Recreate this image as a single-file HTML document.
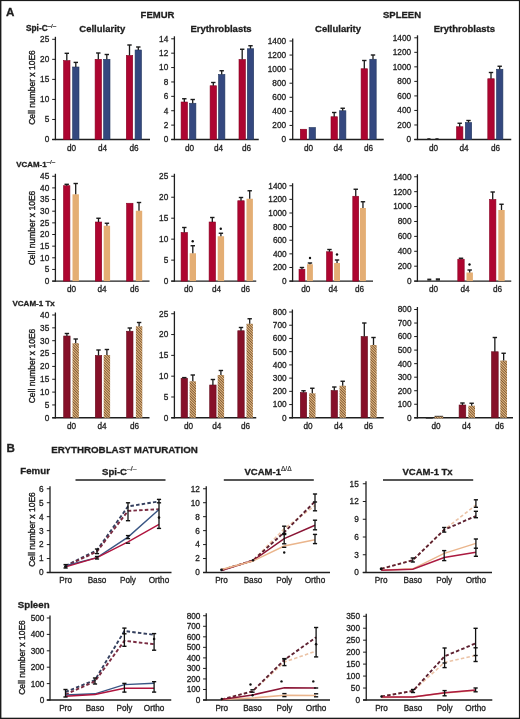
<!DOCTYPE html>
<html><head><meta charset="utf-8"><style>
html,body{margin:0;padding:0;background:#fff;width:520px;height:719px;overflow:hidden;position:relative;font-family:"Liberation Sans",sans-serif}
</style></head><body>
<svg width="520" height="719" viewBox="0 0 520 719" style="position:absolute;left:0;top:0;will-change:transform">
<defs><pattern id="hatch" patternUnits="userSpaceOnUse" width="1.85" height="4" patternTransform="rotate(-45)">
<rect width="1.85" height="4" fill="#e9bd85"/><rect width="0.72" height="4" fill="#5e3c1e"/></pattern></defs>
<rect x="0" y="0" width="520" height="719" fill="#fff"/>
<g font-family="Liberation Sans, sans-serif">
<text x="6.1" y="16.2" font-size="11.6" text-anchor="start" font-weight="bold" fill="#1e1e1e" stroke="#1e1e1e" stroke-width="0.3" >A</text>
<text x="157.5" y="17.5" font-size="9.5" text-anchor="middle" font-weight="bold" fill="#1e1e1e" stroke="#1e1e1e" stroke-width="0.3" >FEMUR</text>
<text x="402" y="17.5" font-size="9.5" text-anchor="middle" font-weight="bold" fill="#1e1e1e" stroke="#1e1e1e" stroke-width="0.3" >SPLEEN</text>
<text x="26" y="31" font-size="8.3" text-anchor="start" font-weight="bold" fill="#1e1e1e" stroke="#1e1e1e" stroke-width="0.3" >Spi-C<tspan dy="-3.1" font-size="6.2" font-weight="normal" stroke-width="0.2">&#8211;/&#8211;</tspan></text>
<text x="102.3" y="32" font-size="9.5" text-anchor="middle" font-weight="bold" fill="#1e1e1e" stroke="#1e1e1e" stroke-width="0.3" >Cellularity</text>
<text x="221" y="31.5" font-size="9.5" text-anchor="middle" font-weight="bold" fill="#1e1e1e" stroke="#1e1e1e" stroke-width="0.3" >Erythroblasts</text>
<text x="338" y="31.5" font-size="9.5" text-anchor="middle" font-weight="bold" fill="#1e1e1e" stroke="#1e1e1e" stroke-width="0.3" >Cellularity</text>
<text x="464.4" y="31.5" font-size="9.5" text-anchor="middle" font-weight="bold" fill="#1e1e1e" stroke="#1e1e1e" stroke-width="0.3" >Erythroblasts</text>
<text x="35" y="87.5" font-size="8.5" text-anchor="middle" fill="#1e1e1e" stroke="#1e1e1e" stroke-width="0.38" transform="rotate(-90 35 87.5)">Cell number x 10E6</text>
<line x1="55.4" y1="36.8" x2="55.4" y2="140.1" stroke="#1e1e1e" stroke-width="1.3" />
<line x1="52.199999999999996" y1="139.5" x2="150" y2="139.5" stroke="#1e1e1e" stroke-width="1.45" />
<line x1="52.199999999999996" y1="39.3" x2="55.4" y2="39.3" stroke="#1e1e1e" stroke-width="1" />
<text x="49.3" y="42.2" font-size="8.25" text-anchor="end" font-weight="normal" fill="#1e1e1e" stroke="#1e1e1e" stroke-width="0.3" >25</text>
<line x1="52.199999999999996" y1="59.34" x2="55.4" y2="59.34" stroke="#1e1e1e" stroke-width="1" />
<text x="49.3" y="62.24" font-size="8.25" text-anchor="end" font-weight="normal" fill="#1e1e1e" stroke="#1e1e1e" stroke-width="0.3" >20</text>
<line x1="52.199999999999996" y1="79.38" x2="55.4" y2="79.38" stroke="#1e1e1e" stroke-width="1" />
<text x="49.3" y="82.28" font-size="8.25" text-anchor="end" font-weight="normal" fill="#1e1e1e" stroke="#1e1e1e" stroke-width="0.3" >15</text>
<line x1="52.199999999999996" y1="99.42" x2="55.4" y2="99.42" stroke="#1e1e1e" stroke-width="1" />
<text x="49.3" y="102.32" font-size="8.25" text-anchor="end" font-weight="normal" fill="#1e1e1e" stroke="#1e1e1e" stroke-width="0.3" >10</text>
<line x1="52.199999999999996" y1="119.46000000000001" x2="55.4" y2="119.46000000000001" stroke="#1e1e1e" stroke-width="1" />
<text x="49.3" y="122.36" font-size="8.25" text-anchor="end" font-weight="normal" fill="#1e1e1e" stroke="#1e1e1e" stroke-width="0.3" >5</text>
<line x1="52.199999999999996" y1="139.5" x2="55.4" y2="139.5" stroke="#1e1e1e" stroke-width="1" />
<text x="49.3" y="142.4" font-size="8.25" text-anchor="end" font-weight="normal" fill="#1e1e1e" stroke="#1e1e1e" stroke-width="0.3" >0</text>
<rect x="63.599999999999994" y="60.6" width="6.4" height="78.9" fill="#ad0531" stroke="#860020" stroke-width="0.6"/>
<line x1="66.8" y1="60.6" x2="66.8" y2="53.3" stroke="#1a1a1a" stroke-width="1.3" />
<line x1="64.6" y1="53.3" x2="69.0" y2="53.3" stroke="#1a1a1a" stroke-width="1.4" />
<rect x="72.6" y="67" width="6.4" height="72.5" fill="#34487f" stroke="#22375e" stroke-width="0.6"/>
<line x1="75.8" y1="67" x2="75.8" y2="62.4" stroke="#1a1a1a" stroke-width="1.3" />
<line x1="73.6" y1="62.4" x2="78.0" y2="62.4" stroke="#1a1a1a" stroke-width="1.4" />
<rect x="95.1" y="59.3" width="6.4" height="80.2" fill="#ad0531" stroke="#860020" stroke-width="0.6"/>
<line x1="98.3" y1="59.3" x2="98.3" y2="53" stroke="#1a1a1a" stroke-width="1.3" />
<line x1="96.1" y1="53" x2="100.5" y2="53" stroke="#1a1a1a" stroke-width="1.4" />
<rect x="103.6" y="59.3" width="6.4" height="80.2" fill="#34487f" stroke="#22375e" stroke-width="0.6"/>
<line x1="106.8" y1="59.3" x2="106.8" y2="54.5" stroke="#1a1a1a" stroke-width="1.3" />
<line x1="104.6" y1="54.5" x2="109.0" y2="54.5" stroke="#1a1a1a" stroke-width="1.4" />
<rect x="126.3" y="55.5" width="6.4" height="84.0" fill="#ad0531" stroke="#860020" stroke-width="0.6"/>
<line x1="129.5" y1="55.5" x2="129.5" y2="45" stroke="#1a1a1a" stroke-width="1.3" />
<line x1="127.3" y1="45" x2="131.7" y2="45" stroke="#1a1a1a" stroke-width="1.4" />
<rect x="135.10000000000002" y="50" width="6.4" height="89.5" fill="#34487f" stroke="#22375e" stroke-width="0.6"/>
<line x1="138.3" y1="50" x2="138.3" y2="47" stroke="#1a1a1a" stroke-width="1.3" />
<line x1="136.10000000000002" y1="47" x2="140.5" y2="47" stroke="#1a1a1a" stroke-width="1.4" />
<text x="71.5" y="150.5" font-size="8.2" text-anchor="middle" font-weight="normal" fill="#1e1e1e" stroke="#1e1e1e" stroke-width="0.3" >d0</text>
<text x="102.5" y="150.5" font-size="8.2" text-anchor="middle" font-weight="normal" fill="#1e1e1e" stroke="#1e1e1e" stroke-width="0.3" >d4</text>
<text x="134" y="150.5" font-size="8.2" text-anchor="middle" font-weight="normal" fill="#1e1e1e" stroke="#1e1e1e" stroke-width="0.3" >d6</text>
<line x1="174.4" y1="36.3" x2="174.4" y2="140.1" stroke="#1e1e1e" stroke-width="1.3" />
<line x1="171.20000000000002" y1="139.5" x2="258.75" y2="139.5" stroke="#1e1e1e" stroke-width="1.45" />
<line x1="171.20000000000002" y1="38.8" x2="174.4" y2="38.8" stroke="#1e1e1e" stroke-width="1" />
<text x="168.3" y="41.7" font-size="8.25" text-anchor="end" font-weight="normal" fill="#1e1e1e" stroke="#1e1e1e" stroke-width="0.3" >14</text>
<line x1="171.20000000000002" y1="53.18571428571428" x2="174.4" y2="53.18571428571428" stroke="#1e1e1e" stroke-width="1" />
<text x="168.3" y="56.09" font-size="8.25" text-anchor="end" font-weight="normal" fill="#1e1e1e" stroke="#1e1e1e" stroke-width="0.3" >12</text>
<line x1="171.20000000000002" y1="67.57142857142857" x2="174.4" y2="67.57142857142857" stroke="#1e1e1e" stroke-width="1" />
<text x="168.3" y="70.47" font-size="8.25" text-anchor="end" font-weight="normal" fill="#1e1e1e" stroke="#1e1e1e" stroke-width="0.3" >10</text>
<line x1="171.20000000000002" y1="81.95714285714286" x2="174.4" y2="81.95714285714286" stroke="#1e1e1e" stroke-width="1" />
<text x="168.3" y="84.86" font-size="8.25" text-anchor="end" font-weight="normal" fill="#1e1e1e" stroke="#1e1e1e" stroke-width="0.3" >8</text>
<line x1="171.20000000000002" y1="96.34285714285714" x2="174.4" y2="96.34285714285714" stroke="#1e1e1e" stroke-width="1" />
<text x="168.3" y="99.24" font-size="8.25" text-anchor="end" font-weight="normal" fill="#1e1e1e" stroke="#1e1e1e" stroke-width="0.3" >6</text>
<line x1="171.20000000000002" y1="110.72857142857143" x2="174.4" y2="110.72857142857143" stroke="#1e1e1e" stroke-width="1" />
<text x="168.3" y="113.63" font-size="8.25" text-anchor="end" font-weight="normal" fill="#1e1e1e" stroke="#1e1e1e" stroke-width="0.3" >4</text>
<line x1="171.20000000000002" y1="125.11428571428571" x2="174.4" y2="125.11428571428571" stroke="#1e1e1e" stroke-width="1" />
<text x="168.3" y="128.01" font-size="8.25" text-anchor="end" font-weight="normal" fill="#1e1e1e" stroke="#1e1e1e" stroke-width="0.3" >2</text>
<line x1="171.20000000000002" y1="139.5" x2="174.4" y2="139.5" stroke="#1e1e1e" stroke-width="1" />
<text x="168.3" y="142.4" font-size="8.25" text-anchor="end" font-weight="normal" fill="#1e1e1e" stroke="#1e1e1e" stroke-width="0.3" >0</text>
<rect x="181.10000000000002" y="102" width="6.4" height="37.5" fill="#ad0531" stroke="#860020" stroke-width="0.6"/>
<line x1="184.3" y1="102" x2="184.3" y2="98.75" stroke="#1a1a1a" stroke-width="1.3" />
<line x1="182.10000000000002" y1="98.75" x2="186.5" y2="98.75" stroke="#1a1a1a" stroke-width="1.4" />
<rect x="189.5" y="103.25" width="6.4" height="36.25" fill="#34487f" stroke="#22375e" stroke-width="0.6"/>
<line x1="192.7" y1="103.25" x2="192.7" y2="99.5" stroke="#1a1a1a" stroke-width="1.3" />
<line x1="190.5" y1="99.5" x2="194.89999999999998" y2="99.5" stroke="#1a1a1a" stroke-width="1.4" />
<rect x="210.10000000000002" y="85.75" width="6.4" height="53.75" fill="#ad0531" stroke="#860020" stroke-width="0.6"/>
<line x1="213.3" y1="85.75" x2="213.3" y2="82.5" stroke="#1a1a1a" stroke-width="1.3" />
<line x1="211.10000000000002" y1="82.5" x2="215.5" y2="82.5" stroke="#1a1a1a" stroke-width="1.4" />
<rect x="218.5" y="74.5" width="6.4" height="65.0" fill="#34487f" stroke="#22375e" stroke-width="0.6"/>
<line x1="221.7" y1="74.5" x2="221.7" y2="70.75" stroke="#1a1a1a" stroke-width="1.3" />
<line x1="219.5" y1="70.75" x2="223.89999999999998" y2="70.75" stroke="#1a1a1a" stroke-width="1.4" />
<rect x="239.0" y="59.5" width="6.4" height="80.0" fill="#ad0531" stroke="#860020" stroke-width="0.6"/>
<line x1="242.2" y1="59.5" x2="242.2" y2="49.25" stroke="#1a1a1a" stroke-width="1.3" />
<line x1="240.0" y1="49.25" x2="244.39999999999998" y2="49.25" stroke="#1a1a1a" stroke-width="1.4" />
<rect x="247.3" y="48.75" width="6.4" height="90.75" fill="#34487f" stroke="#22375e" stroke-width="0.6"/>
<line x1="250.5" y1="48.75" x2="250.5" y2="45.75" stroke="#1a1a1a" stroke-width="1.3" />
<line x1="248.3" y1="45.75" x2="252.7" y2="45.75" stroke="#1a1a1a" stroke-width="1.4" />
<text x="189.5" y="150.5" font-size="8.2" text-anchor="middle" font-weight="normal" fill="#1e1e1e" stroke="#1e1e1e" stroke-width="0.3" >d0</text>
<text x="218.5" y="150.5" font-size="8.2" text-anchor="middle" font-weight="normal" fill="#1e1e1e" stroke="#1e1e1e" stroke-width="0.3" >d4</text>
<text x="246.5" y="150.5" font-size="8.2" text-anchor="middle" font-weight="normal" fill="#1e1e1e" stroke="#1e1e1e" stroke-width="0.3" >d6</text>
<line x1="292.7" y1="38.5" x2="292.7" y2="140.1" stroke="#1e1e1e" stroke-width="1.3" />
<line x1="289.5" y1="139.5" x2="383.75" y2="139.5" stroke="#1e1e1e" stroke-width="1.45" />
<line x1="289.5" y1="41.0" x2="292.7" y2="41.0" stroke="#1e1e1e" stroke-width="1" />
<text x="286.09999999999997" y="43.9" font-size="8.25" text-anchor="end" font-weight="normal" fill="#1e1e1e" stroke="#1e1e1e" stroke-width="0.3" >1400</text>
<line x1="289.5" y1="55.07142857142857" x2="292.7" y2="55.07142857142857" stroke="#1e1e1e" stroke-width="1" />
<text x="286.09999999999997" y="57.97" font-size="8.25" text-anchor="end" font-weight="normal" fill="#1e1e1e" stroke="#1e1e1e" stroke-width="0.3" >1200</text>
<line x1="289.5" y1="69.14285714285714" x2="292.7" y2="69.14285714285714" stroke="#1e1e1e" stroke-width="1" />
<text x="286.09999999999997" y="72.04" font-size="8.25" text-anchor="end" font-weight="normal" fill="#1e1e1e" stroke="#1e1e1e" stroke-width="0.3" >1000</text>
<line x1="289.5" y1="83.21428571428572" x2="292.7" y2="83.21428571428572" stroke="#1e1e1e" stroke-width="1" />
<text x="286.09999999999997" y="86.11" font-size="8.25" text-anchor="end" font-weight="normal" fill="#1e1e1e" stroke="#1e1e1e" stroke-width="0.3" >800</text>
<line x1="289.5" y1="97.28571428571428" x2="292.7" y2="97.28571428571428" stroke="#1e1e1e" stroke-width="1" />
<text x="286.09999999999997" y="100.19" font-size="8.25" text-anchor="end" font-weight="normal" fill="#1e1e1e" stroke="#1e1e1e" stroke-width="0.3" >600</text>
<line x1="289.5" y1="111.35714285714286" x2="292.7" y2="111.35714285714286" stroke="#1e1e1e" stroke-width="1" />
<text x="286.09999999999997" y="114.26" font-size="8.25" text-anchor="end" font-weight="normal" fill="#1e1e1e" stroke="#1e1e1e" stroke-width="0.3" >400</text>
<line x1="289.5" y1="125.42857142857143" x2="292.7" y2="125.42857142857143" stroke="#1e1e1e" stroke-width="1" />
<text x="286.09999999999997" y="128.33" font-size="8.25" text-anchor="end" font-weight="normal" fill="#1e1e1e" stroke="#1e1e1e" stroke-width="0.3" >200</text>
<line x1="289.5" y1="139.5" x2="292.7" y2="139.5" stroke="#1e1e1e" stroke-width="1" />
<text x="286.09999999999997" y="142.4" font-size="8.25" text-anchor="end" font-weight="normal" fill="#1e1e1e" stroke="#1e1e1e" stroke-width="0.3" >0</text>
<rect x="300.3" y="129.25" width="6.4" height="10.25" fill="#ad0531" stroke="#860020" stroke-width="0.6"/>
<rect x="309.1" y="127.5" width="6.4" height="12.0" fill="#34487f" stroke="#22375e" stroke-width="0.6"/>
<rect x="331.0" y="116.75" width="6.4" height="22.75" fill="#ad0531" stroke="#860020" stroke-width="0.6"/>
<line x1="334.2" y1="116.75" x2="334.2" y2="112.5" stroke="#1a1a1a" stroke-width="1.3" />
<line x1="332.0" y1="112.5" x2="336.4" y2="112.5" stroke="#1a1a1a" stroke-width="1.4" />
<rect x="339.5" y="110.75" width="6.4" height="28.75" fill="#34487f" stroke="#22375e" stroke-width="0.6"/>
<line x1="342.7" y1="110.75" x2="342.7" y2="108.25" stroke="#1a1a1a" stroke-width="1.3" />
<line x1="340.5" y1="108.25" x2="344.9" y2="108.25" stroke="#1a1a1a" stroke-width="1.4" />
<rect x="361.1" y="68.75" width="6.4" height="70.75" fill="#ad0531" stroke="#860020" stroke-width="0.6"/>
<line x1="364.3" y1="68.75" x2="364.3" y2="60.5" stroke="#1a1a1a" stroke-width="1.3" />
<line x1="362.1" y1="60.5" x2="366.5" y2="60.5" stroke="#1a1a1a" stroke-width="1.4" />
<rect x="369.8" y="59.25" width="6.4" height="80.25" fill="#34487f" stroke="#22375e" stroke-width="0.6"/>
<line x1="373.0" y1="59.25" x2="373.0" y2="55" stroke="#1a1a1a" stroke-width="1.3" />
<line x1="370.8" y1="55" x2="375.2" y2="55" stroke="#1a1a1a" stroke-width="1.4" />
<text x="308.5" y="150.5" font-size="8.2" text-anchor="middle" font-weight="normal" fill="#1e1e1e" stroke="#1e1e1e" stroke-width="0.3" >d0</text>
<text x="338" y="150.5" font-size="8.2" text-anchor="middle" font-weight="normal" fill="#1e1e1e" stroke="#1e1e1e" stroke-width="0.3" >d4</text>
<text x="368.5" y="150.5" font-size="8.2" text-anchor="middle" font-weight="normal" fill="#1e1e1e" stroke="#1e1e1e" stroke-width="0.3" >d6</text>
<line x1="417.5" y1="35.3" x2="417.5" y2="140.1" stroke="#1e1e1e" stroke-width="1.3" />
<line x1="414.3" y1="139.5" x2="511.25" y2="139.5" stroke="#1e1e1e" stroke-width="1.45" />
<line x1="414.3" y1="37.8" x2="417.5" y2="37.8" stroke="#1e1e1e" stroke-width="1" />
<text x="411.1" y="40.7" font-size="8.25" text-anchor="end" font-weight="normal" fill="#1e1e1e" stroke="#1e1e1e" stroke-width="0.3" >1400</text>
<line x1="414.3" y1="52.32857142857142" x2="417.5" y2="52.32857142857142" stroke="#1e1e1e" stroke-width="1" />
<text x="411.1" y="55.23" font-size="8.25" text-anchor="end" font-weight="normal" fill="#1e1e1e" stroke="#1e1e1e" stroke-width="0.3" >1200</text>
<line x1="414.3" y1="66.85714285714286" x2="417.5" y2="66.85714285714286" stroke="#1e1e1e" stroke-width="1" />
<text x="411.1" y="69.76" font-size="8.25" text-anchor="end" font-weight="normal" fill="#1e1e1e" stroke="#1e1e1e" stroke-width="0.3" >1000</text>
<line x1="414.3" y1="81.38571428571429" x2="417.5" y2="81.38571428571429" stroke="#1e1e1e" stroke-width="1" />
<text x="411.1" y="84.29" font-size="8.25" text-anchor="end" font-weight="normal" fill="#1e1e1e" stroke="#1e1e1e" stroke-width="0.3" >800</text>
<line x1="414.3" y1="95.91428571428571" x2="417.5" y2="95.91428571428571" stroke="#1e1e1e" stroke-width="1" />
<text x="411.1" y="98.81" font-size="8.25" text-anchor="end" font-weight="normal" fill="#1e1e1e" stroke="#1e1e1e" stroke-width="0.3" >600</text>
<line x1="414.3" y1="110.44285714285715" x2="417.5" y2="110.44285714285715" stroke="#1e1e1e" stroke-width="1" />
<text x="411.1" y="113.34" font-size="8.25" text-anchor="end" font-weight="normal" fill="#1e1e1e" stroke="#1e1e1e" stroke-width="0.3" >400</text>
<line x1="414.3" y1="124.97142857142858" x2="417.5" y2="124.97142857142858" stroke="#1e1e1e" stroke-width="1" />
<text x="411.1" y="127.87" font-size="8.25" text-anchor="end" font-weight="normal" fill="#1e1e1e" stroke="#1e1e1e" stroke-width="0.3" >200</text>
<line x1="414.3" y1="139.5" x2="417.5" y2="139.5" stroke="#1e1e1e" stroke-width="1" />
<text x="411.1" y="142.4" font-size="8.25" text-anchor="end" font-weight="normal" fill="#1e1e1e" stroke="#1e1e1e" stroke-width="0.3" >0</text>
<rect x="427.3" y="138.2" width="3.2" height="1.4" fill="#222"/><rect x="435.4" y="138.2" width="3.2" height="1.4" fill="#222"/>
<rect x="456.5" y="126.75" width="6.4" height="12.75" fill="#ad0531" stroke="#860020" stroke-width="0.6"/>
<line x1="459.7" y1="126.75" x2="459.7" y2="123.25" stroke="#1a1a1a" stroke-width="1.3" />
<line x1="457.5" y1="123.25" x2="461.9" y2="123.25" stroke="#1a1a1a" stroke-width="1.4" />
<rect x="465.3" y="122.5" width="6.4" height="17.0" fill="#34487f" stroke="#22375e" stroke-width="0.6"/>
<line x1="468.5" y1="122.5" x2="468.5" y2="120.5" stroke="#1a1a1a" stroke-width="1.3" />
<line x1="466.3" y1="120.5" x2="470.7" y2="120.5" stroke="#1a1a1a" stroke-width="1.4" />
<rect x="487.8" y="78.75" width="6.4" height="60.75" fill="#ad0531" stroke="#860020" stroke-width="0.6"/>
<line x1="491.0" y1="78.75" x2="491.0" y2="72.5" stroke="#1a1a1a" stroke-width="1.3" />
<line x1="488.8" y1="72.5" x2="493.2" y2="72.5" stroke="#1a1a1a" stroke-width="1.4" />
<rect x="496.5" y="69.25" width="6.4" height="70.25" fill="#34487f" stroke="#22375e" stroke-width="0.6"/>
<line x1="499.7" y1="69.25" x2="499.7" y2="66.25" stroke="#1a1a1a" stroke-width="1.3" />
<line x1="497.5" y1="66.25" x2="501.9" y2="66.25" stroke="#1a1a1a" stroke-width="1.4" />
<text x="433.5" y="150.5" font-size="8.2" text-anchor="middle" font-weight="normal" fill="#1e1e1e" stroke="#1e1e1e" stroke-width="0.3" >d0</text>
<text x="464" y="150.5" font-size="8.2" text-anchor="middle" font-weight="normal" fill="#1e1e1e" stroke="#1e1e1e" stroke-width="0.3" >d4</text>
<text x="495.5" y="150.5" font-size="8.2" text-anchor="middle" font-weight="normal" fill="#1e1e1e" stroke="#1e1e1e" stroke-width="0.3" >d6</text>
<text x="16.3" y="167" font-size="7.9" text-anchor="start" font-weight="bold" fill="#1e1e1e" stroke="#1e1e1e" stroke-width="0.3" >VCAM-1<tspan dy="-3.1" font-size="6.2" font-weight="normal" stroke-width="0.2">&#8211;/&#8211;</tspan></text>
<text x="35" y="228" font-size="8.5" text-anchor="middle" fill="#1e1e1e" stroke="#1e1e1e" stroke-width="0.38" transform="rotate(-90 35 228)">Cell number x 10E6</text>
<line x1="55.4" y1="173.75" x2="55.4" y2="281.70000000000005" stroke="#1e1e1e" stroke-width="1.3" />
<line x1="52.199999999999996" y1="281.1" x2="149.5" y2="281.1" stroke="#1e1e1e" stroke-width="1.45" />
<line x1="52.199999999999996" y1="176.25" x2="55.4" y2="176.25" stroke="#1e1e1e" stroke-width="1" />
<text x="49.3" y="179.15" font-size="8.25" text-anchor="end" font-weight="normal" fill="#1e1e1e" stroke="#1e1e1e" stroke-width="0.3" >45</text>
<line x1="52.199999999999996" y1="187.9" x2="55.4" y2="187.9" stroke="#1e1e1e" stroke-width="1" />
<text x="49.3" y="190.8" font-size="8.25" text-anchor="end" font-weight="normal" fill="#1e1e1e" stroke="#1e1e1e" stroke-width="0.3" >40</text>
<line x1="52.199999999999996" y1="199.55" x2="55.4" y2="199.55" stroke="#1e1e1e" stroke-width="1" />
<text x="49.3" y="202.45" font-size="8.25" text-anchor="end" font-weight="normal" fill="#1e1e1e" stroke="#1e1e1e" stroke-width="0.3" >35</text>
<line x1="52.199999999999996" y1="211.2" x2="55.4" y2="211.2" stroke="#1e1e1e" stroke-width="1" />
<text x="49.3" y="214.1" font-size="8.25" text-anchor="end" font-weight="normal" fill="#1e1e1e" stroke="#1e1e1e" stroke-width="0.3" >30</text>
<line x1="52.199999999999996" y1="222.85000000000002" x2="55.4" y2="222.85000000000002" stroke="#1e1e1e" stroke-width="1" />
<text x="49.3" y="225.75" font-size="8.25" text-anchor="end" font-weight="normal" fill="#1e1e1e" stroke="#1e1e1e" stroke-width="0.3" >25</text>
<line x1="52.199999999999996" y1="234.5" x2="55.4" y2="234.5" stroke="#1e1e1e" stroke-width="1" />
<text x="49.3" y="237.4" font-size="8.25" text-anchor="end" font-weight="normal" fill="#1e1e1e" stroke="#1e1e1e" stroke-width="0.3" >20</text>
<line x1="52.199999999999996" y1="246.15" x2="55.4" y2="246.15" stroke="#1e1e1e" stroke-width="1" />
<text x="49.3" y="249.05" font-size="8.25" text-anchor="end" font-weight="normal" fill="#1e1e1e" stroke="#1e1e1e" stroke-width="0.3" >15</text>
<line x1="52.199999999999996" y1="257.8" x2="55.4" y2="257.8" stroke="#1e1e1e" stroke-width="1" />
<text x="49.3" y="260.7" font-size="8.25" text-anchor="end" font-weight="normal" fill="#1e1e1e" stroke="#1e1e1e" stroke-width="0.3" >10</text>
<line x1="52.199999999999996" y1="269.45000000000005" x2="55.4" y2="269.45000000000005" stroke="#1e1e1e" stroke-width="1" />
<text x="49.3" y="272.35" font-size="8.25" text-anchor="end" font-weight="normal" fill="#1e1e1e" stroke="#1e1e1e" stroke-width="0.3" >5</text>
<line x1="52.199999999999996" y1="281.1" x2="55.4" y2="281.1" stroke="#1e1e1e" stroke-width="1" />
<text x="49.3" y="284.0" font-size="8.25" text-anchor="end" font-weight="normal" fill="#1e1e1e" stroke="#1e1e1e" stroke-width="0.3" >0</text>
<rect x="63.5" y="185.7" width="6.4" height="95.40000000000003" fill="#ae0530" stroke="#880022" stroke-width="0.6"/>
<line x1="66.7" y1="185.7" x2="66.7" y2="184.3" stroke="#1a1a1a" stroke-width="1.3" />
<line x1="64.5" y1="184.3" x2="68.9" y2="184.3" stroke="#1a1a1a" stroke-width="1.4" />
<rect x="72.5" y="194.3" width="6.4" height="86.80000000000001" fill="#e4ae74"/>
<line x1="75.7" y1="194.3" x2="75.7" y2="183.5" stroke="#1a1a1a" stroke-width="1.3" />
<line x1="73.5" y1="183.5" x2="77.9" y2="183.5" stroke="#1a1a1a" stroke-width="1.4" />
<rect x="95.3" y="222" width="6.4" height="59.10000000000002" fill="#ae0530" stroke="#880022" stroke-width="0.6"/>
<line x1="98.5" y1="222" x2="98.5" y2="218.25" stroke="#1a1a1a" stroke-width="1.3" />
<line x1="96.3" y1="218.25" x2="100.7" y2="218.25" stroke="#1a1a1a" stroke-width="1.4" />
<rect x="103.7" y="225.75" width="6.4" height="55.35000000000002" fill="#e4ae74"/>
<line x1="106.9" y1="225.75" x2="106.9" y2="223.25" stroke="#1a1a1a" stroke-width="1.3" />
<line x1="104.7" y1="223.25" x2="109.10000000000001" y2="223.25" stroke="#1a1a1a" stroke-width="1.4" />
<rect x="126.6" y="203.25" width="6.400000000000015" height="77.85000000000002" fill="#ae0530" stroke="#880022" stroke-width="0.6"/>
<rect x="135.8" y="210.75" width="6.4" height="70.35000000000002" fill="#e4ae74"/>
<line x1="139.0" y1="210.75" x2="139.0" y2="202.5" stroke="#1a1a1a" stroke-width="1.3" />
<line x1="136.8" y1="202.5" x2="141.2" y2="202.5" stroke="#1a1a1a" stroke-width="1.4" />
<text x="71.5" y="292.1" font-size="8.2" text-anchor="middle" font-weight="normal" fill="#1e1e1e" stroke="#1e1e1e" stroke-width="0.3" >d0</text>
<text x="102" y="292.1" font-size="8.2" text-anchor="middle" font-weight="normal" fill="#1e1e1e" stroke="#1e1e1e" stroke-width="0.3" >d4</text>
<text x="134.5" y="292.1" font-size="8.2" text-anchor="middle" font-weight="normal" fill="#1e1e1e" stroke="#1e1e1e" stroke-width="0.3" >d6</text>
<line x1="174.4" y1="173.75" x2="174.4" y2="281.70000000000005" stroke="#1e1e1e" stroke-width="1.3" />
<line x1="171.20000000000002" y1="281.1" x2="256.25" y2="281.1" stroke="#1e1e1e" stroke-width="1.45" />
<line x1="171.20000000000002" y1="176.25" x2="174.4" y2="176.25" stroke="#1e1e1e" stroke-width="1" />
<text x="168.3" y="179.15" font-size="8.25" text-anchor="end" font-weight="normal" fill="#1e1e1e" stroke="#1e1e1e" stroke-width="0.3" >25</text>
<line x1="171.20000000000002" y1="197.22" x2="174.4" y2="197.22" stroke="#1e1e1e" stroke-width="1" />
<text x="168.3" y="200.12" font-size="8.25" text-anchor="end" font-weight="normal" fill="#1e1e1e" stroke="#1e1e1e" stroke-width="0.3" >20</text>
<line x1="171.20000000000002" y1="218.19" x2="174.4" y2="218.19" stroke="#1e1e1e" stroke-width="1" />
<text x="168.3" y="221.09" font-size="8.25" text-anchor="end" font-weight="normal" fill="#1e1e1e" stroke="#1e1e1e" stroke-width="0.3" >15</text>
<line x1="171.20000000000002" y1="239.16000000000003" x2="174.4" y2="239.16000000000003" stroke="#1e1e1e" stroke-width="1" />
<text x="168.3" y="242.06" font-size="8.25" text-anchor="end" font-weight="normal" fill="#1e1e1e" stroke="#1e1e1e" stroke-width="0.3" >10</text>
<line x1="171.20000000000002" y1="260.13" x2="174.4" y2="260.13" stroke="#1e1e1e" stroke-width="1" />
<text x="168.3" y="263.03" font-size="8.25" text-anchor="end" font-weight="normal" fill="#1e1e1e" stroke="#1e1e1e" stroke-width="0.3" >5</text>
<line x1="171.20000000000002" y1="281.1" x2="174.4" y2="281.1" stroke="#1e1e1e" stroke-width="1" />
<text x="168.3" y="284.0" font-size="8.25" text-anchor="end" font-weight="normal" fill="#1e1e1e" stroke="#1e1e1e" stroke-width="0.3" >0</text>
<rect x="181.10000000000002" y="232.5" width="6.4" height="48.60000000000002" fill="#ae0530" stroke="#880022" stroke-width="0.6"/>
<line x1="184.3" y1="232.5" x2="184.3" y2="227.5" stroke="#1a1a1a" stroke-width="1.3" />
<line x1="182.10000000000002" y1="227.5" x2="186.5" y2="227.5" stroke="#1a1a1a" stroke-width="1.4" />
<rect x="189.60000000000002" y="253.25" width="6.4" height="27.850000000000023" fill="#e4ae74"/>
<line x1="192.8" y1="253.25" x2="192.8" y2="245.75" stroke="#1a1a1a" stroke-width="1.3" />
<line x1="190.60000000000002" y1="245.75" x2="195.0" y2="245.75" stroke="#1a1a1a" stroke-width="1.4" />
<rect x="209.10000000000002" y="222" width="6.4" height="59.10000000000002" fill="#ae0530" stroke="#880022" stroke-width="0.6"/>
<line x1="212.3" y1="222" x2="212.3" y2="217.5" stroke="#1a1a1a" stroke-width="1.3" />
<line x1="210.10000000000002" y1="217.5" x2="214.5" y2="217.5" stroke="#1a1a1a" stroke-width="1.4" />
<rect x="217.70000000000002" y="236.25" width="6.4" height="44.85000000000002" fill="#e4ae74"/>
<line x1="220.9" y1="236.25" x2="220.9" y2="233.25" stroke="#1a1a1a" stroke-width="1.3" />
<line x1="218.70000000000002" y1="233.25" x2="223.1" y2="233.25" stroke="#1a1a1a" stroke-width="1.4" />
<rect x="237.8" y="200.75" width="6.4" height="80.35000000000002" fill="#ae0530" stroke="#880022" stroke-width="0.6"/>
<line x1="241.0" y1="200.75" x2="241.0" y2="197.5" stroke="#1a1a1a" stroke-width="1.3" />
<line x1="238.8" y1="197.5" x2="243.2" y2="197.5" stroke="#1a1a1a" stroke-width="1.4" />
<rect x="246.5" y="198.75" width="6.4" height="82.35000000000002" fill="#e4ae74"/>
<line x1="249.7" y1="198.75" x2="249.7" y2="190.75" stroke="#1a1a1a" stroke-width="1.3" />
<line x1="247.5" y1="190.75" x2="251.89999999999998" y2="190.75" stroke="#1a1a1a" stroke-width="1.4" />
<circle cx="192.7" cy="241.3" r="1.2" fill="#111"/>
<circle cx="220.8" cy="228.8" r="1.2" fill="#111"/>
<text x="188.5" y="292.1" font-size="8.2" text-anchor="middle" font-weight="normal" fill="#1e1e1e" stroke="#1e1e1e" stroke-width="0.3" >d0</text>
<text x="216.5" y="292.1" font-size="8.2" text-anchor="middle" font-weight="normal" fill="#1e1e1e" stroke="#1e1e1e" stroke-width="0.3" >d4</text>
<text x="245.5" y="292.1" font-size="8.2" text-anchor="middle" font-weight="normal" fill="#1e1e1e" stroke="#1e1e1e" stroke-width="0.3" >d6</text>
<line x1="292.6" y1="183.25" x2="292.6" y2="281.70000000000005" stroke="#1e1e1e" stroke-width="1.3" />
<line x1="289.40000000000003" y1="281.1" x2="373" y2="281.1" stroke="#1e1e1e" stroke-width="1.45" />
<line x1="289.40000000000003" y1="185.75" x2="292.6" y2="185.75" stroke="#1e1e1e" stroke-width="1" />
<text x="286.70000000000005" y="188.65" font-size="8.25" text-anchor="end" font-weight="normal" fill="#1e1e1e" stroke="#1e1e1e" stroke-width="0.3" >1400</text>
<line x1="289.40000000000003" y1="199.37142857142857" x2="292.6" y2="199.37142857142857" stroke="#1e1e1e" stroke-width="1" />
<text x="286.70000000000005" y="202.27" font-size="8.25" text-anchor="end" font-weight="normal" fill="#1e1e1e" stroke="#1e1e1e" stroke-width="0.3" >1200</text>
<line x1="289.40000000000003" y1="212.99285714285713" x2="292.6" y2="212.99285714285713" stroke="#1e1e1e" stroke-width="1" />
<text x="286.70000000000005" y="215.89" font-size="8.25" text-anchor="end" font-weight="normal" fill="#1e1e1e" stroke="#1e1e1e" stroke-width="0.3" >1000</text>
<line x1="289.40000000000003" y1="226.61428571428573" x2="292.6" y2="226.61428571428573" stroke="#1e1e1e" stroke-width="1" />
<text x="286.70000000000005" y="229.51" font-size="8.25" text-anchor="end" font-weight="normal" fill="#1e1e1e" stroke="#1e1e1e" stroke-width="0.3" >800</text>
<line x1="289.40000000000003" y1="240.2357142857143" x2="292.6" y2="240.2357142857143" stroke="#1e1e1e" stroke-width="1" />
<text x="286.70000000000005" y="243.14" font-size="8.25" text-anchor="end" font-weight="normal" fill="#1e1e1e" stroke="#1e1e1e" stroke-width="0.3" >600</text>
<line x1="289.40000000000003" y1="253.8571428571429" x2="292.6" y2="253.8571428571429" stroke="#1e1e1e" stroke-width="1" />
<text x="286.70000000000005" y="256.76" font-size="8.25" text-anchor="end" font-weight="normal" fill="#1e1e1e" stroke="#1e1e1e" stroke-width="0.3" >400</text>
<line x1="289.40000000000003" y1="267.47857142857146" x2="292.6" y2="267.47857142857146" stroke="#1e1e1e" stroke-width="1" />
<text x="286.70000000000005" y="270.38" font-size="8.25" text-anchor="end" font-weight="normal" fill="#1e1e1e" stroke="#1e1e1e" stroke-width="0.3" >200</text>
<line x1="289.40000000000003" y1="281.1" x2="292.6" y2="281.1" stroke="#1e1e1e" stroke-width="1" />
<text x="286.70000000000005" y="284.0" font-size="8.25" text-anchor="end" font-weight="normal" fill="#1e1e1e" stroke="#1e1e1e" stroke-width="0.3" >0</text>
<rect x="299.0" y="269.25" width="5.9" height="11.850000000000023" fill="#ae0530" stroke="#880022" stroke-width="0.6"/>
<line x1="301.95" y1="269.25" x2="301.95" y2="267.5" stroke="#1a1a1a" stroke-width="1.3" />
<line x1="299.75" y1="267.5" x2="304.15" y2="267.5" stroke="#1a1a1a" stroke-width="1.4" />
<rect x="307.0" y="264.25" width="5.9" height="16.850000000000023" fill="#e4ae74"/>
<line x1="309.95" y1="264.25" x2="309.95" y2="263" stroke="#1a1a1a" stroke-width="1.3" />
<line x1="307.75" y1="263" x2="312.15" y2="263" stroke="#1a1a1a" stroke-width="1.4" />
<rect x="326.5" y="251.75" width="5.9" height="29.350000000000023" fill="#ae0530" stroke="#880022" stroke-width="0.6"/>
<line x1="329.45" y1="251.75" x2="329.45" y2="249.5" stroke="#1a1a1a" stroke-width="1.3" />
<line x1="327.25" y1="249.5" x2="331.65" y2="249.5" stroke="#1a1a1a" stroke-width="1.4" />
<rect x="334.1" y="263" width="5.9" height="18.100000000000023" fill="#e4ae74"/>
<line x1="337.05" y1="263" x2="337.05" y2="260" stroke="#1a1a1a" stroke-width="1.3" />
<line x1="334.85" y1="260" x2="339.25" y2="260" stroke="#1a1a1a" stroke-width="1.4" />
<rect x="352.8" y="196.25" width="5.9" height="84.85000000000002" fill="#ae0530" stroke="#880022" stroke-width="0.6"/>
<line x1="355.75" y1="196.25" x2="355.75" y2="189.25" stroke="#1a1a1a" stroke-width="1.3" />
<line x1="353.55" y1="189.25" x2="357.95" y2="189.25" stroke="#1a1a1a" stroke-width="1.4" />
<rect x="360.0" y="208" width="5.9" height="73.10000000000002" fill="#e4ae74"/>
<line x1="362.95" y1="208" x2="362.95" y2="201.75" stroke="#1a1a1a" stroke-width="1.3" />
<line x1="360.75" y1="201.75" x2="365.15" y2="201.75" stroke="#1a1a1a" stroke-width="1.4" />
<circle cx="310" cy="258" r="1.2" fill="#111"/>
<circle cx="337" cy="254.5" r="1.2" fill="#111"/>
<text x="305.8" y="292.1" font-size="8.2" text-anchor="middle" font-weight="normal" fill="#1e1e1e" stroke="#1e1e1e" stroke-width="0.3" >d0</text>
<text x="333" y="292.1" font-size="8.2" text-anchor="middle" font-weight="normal" fill="#1e1e1e" stroke="#1e1e1e" stroke-width="0.3" >d4</text>
<text x="359.5" y="292.1" font-size="8.2" text-anchor="middle" font-weight="normal" fill="#1e1e1e" stroke="#1e1e1e" stroke-width="0.3" >d6</text>
<line x1="417.4" y1="174.25" x2="417.4" y2="281.70000000000005" stroke="#1e1e1e" stroke-width="1.3" />
<line x1="414.2" y1="281.1" x2="511.25" y2="281.1" stroke="#1e1e1e" stroke-width="1.45" />
<line x1="414.2" y1="176.75" x2="417.4" y2="176.75" stroke="#1e1e1e" stroke-width="1" />
<text x="411.5" y="179.65" font-size="8.25" text-anchor="end" font-weight="normal" fill="#1e1e1e" stroke="#1e1e1e" stroke-width="0.3" >1400</text>
<line x1="414.2" y1="191.65714285714284" x2="417.4" y2="191.65714285714284" stroke="#1e1e1e" stroke-width="1" />
<text x="411.5" y="194.56" font-size="8.25" text-anchor="end" font-weight="normal" fill="#1e1e1e" stroke="#1e1e1e" stroke-width="0.3" >1200</text>
<line x1="414.2" y1="206.56428571428572" x2="417.4" y2="206.56428571428572" stroke="#1e1e1e" stroke-width="1" />
<text x="411.5" y="209.46" font-size="8.25" text-anchor="end" font-weight="normal" fill="#1e1e1e" stroke="#1e1e1e" stroke-width="0.3" >1000</text>
<line x1="414.2" y1="221.4714285714286" x2="417.4" y2="221.4714285714286" stroke="#1e1e1e" stroke-width="1" />
<text x="411.5" y="224.37" font-size="8.25" text-anchor="end" font-weight="normal" fill="#1e1e1e" stroke="#1e1e1e" stroke-width="0.3" >800</text>
<line x1="414.2" y1="236.37857142857143" x2="417.4" y2="236.37857142857143" stroke="#1e1e1e" stroke-width="1" />
<text x="411.5" y="239.28" font-size="8.25" text-anchor="end" font-weight="normal" fill="#1e1e1e" stroke="#1e1e1e" stroke-width="0.3" >600</text>
<line x1="414.2" y1="251.2857142857143" x2="417.4" y2="251.2857142857143" stroke="#1e1e1e" stroke-width="1" />
<text x="411.5" y="254.19" font-size="8.25" text-anchor="end" font-weight="normal" fill="#1e1e1e" stroke="#1e1e1e" stroke-width="0.3" >400</text>
<line x1="414.2" y1="266.1928571428572" x2="417.4" y2="266.1928571428572" stroke="#1e1e1e" stroke-width="1" />
<text x="411.5" y="269.09" font-size="8.25" text-anchor="end" font-weight="normal" fill="#1e1e1e" stroke="#1e1e1e" stroke-width="0.3" >200</text>
<line x1="414.2" y1="281.1" x2="417.4" y2="281.1" stroke="#1e1e1e" stroke-width="1" />
<text x="411.5" y="284.0" font-size="8.25" text-anchor="end" font-weight="normal" fill="#1e1e1e" stroke="#1e1e1e" stroke-width="0.3" >0</text>
<rect x="427.3" y="278.6" width="4" height="2" fill="#222"/><rect x="435.8" y="278.3" width="4.2" height="2.3" fill="#222"/>
<rect x="457.8" y="259.25" width="6.4" height="21.850000000000023" fill="#ae0530" stroke="#880022" stroke-width="0.6"/>
<line x1="461.0" y1="259.25" x2="461.0" y2="258.25" stroke="#1a1a1a" stroke-width="1.3" />
<line x1="458.8" y1="258.25" x2="463.2" y2="258.25" stroke="#1a1a1a" stroke-width="1.4" />
<rect x="466.5" y="272.5" width="6.4" height="8.600000000000023" fill="#e4ae74"/>
<line x1="469.7" y1="272.5" x2="469.7" y2="270" stroke="#1a1a1a" stroke-width="1.3" />
<line x1="467.5" y1="270" x2="471.9" y2="270" stroke="#1a1a1a" stroke-width="1.4" />
<rect x="489.5" y="199.5" width="6.4" height="81.60000000000002" fill="#ae0530" stroke="#880022" stroke-width="0.6"/>
<line x1="492.7" y1="199.5" x2="492.7" y2="192" stroke="#1a1a1a" stroke-width="1.3" />
<line x1="490.5" y1="192" x2="494.9" y2="192" stroke="#1a1a1a" stroke-width="1.4" />
<rect x="498.3" y="210" width="6.4" height="71.10000000000002" fill="#e4ae74"/>
<line x1="501.5" y1="210" x2="501.5" y2="204.25" stroke="#1a1a1a" stroke-width="1.3" />
<line x1="499.3" y1="204.25" x2="503.7" y2="204.25" stroke="#1a1a1a" stroke-width="1.4" />
<circle cx="469.5" cy="264.5" r="1.2" fill="#111"/>
<text x="433.5" y="292.1" font-size="8.2" text-anchor="middle" font-weight="normal" fill="#1e1e1e" stroke="#1e1e1e" stroke-width="0.3" >d0</text>
<text x="465" y="292.1" font-size="8.2" text-anchor="middle" font-weight="normal" fill="#1e1e1e" stroke="#1e1e1e" stroke-width="0.3" >d4</text>
<text x="497.5" y="292.1" font-size="8.2" text-anchor="middle" font-weight="normal" fill="#1e1e1e" stroke="#1e1e1e" stroke-width="0.3" >d6</text>
<text x="12.5" y="306" font-size="8" text-anchor="start" font-weight="bold" fill="#1e1e1e" stroke="#1e1e1e" stroke-width="0.3" >VCAM-1 Tx</text>
<text x="35" y="366" font-size="8.5" text-anchor="middle" fill="#1e1e1e" stroke="#1e1e1e" stroke-width="0.38" transform="rotate(-90 35 366)">Cell number x 10E6</text>
<line x1="55.4" y1="312.5" x2="55.4" y2="418.40000000000003" stroke="#1e1e1e" stroke-width="1.3" />
<line x1="52.199999999999996" y1="417.8" x2="149.5" y2="417.8" stroke="#1e1e1e" stroke-width="1.45" />
<line x1="52.199999999999996" y1="315.0" x2="55.4" y2="315.0" stroke="#1e1e1e" stroke-width="1" />
<text x="49.3" y="317.9" font-size="8.25" text-anchor="end" font-weight="normal" fill="#1e1e1e" stroke="#1e1e1e" stroke-width="0.3" >40</text>
<line x1="52.199999999999996" y1="327.85" x2="55.4" y2="327.85" stroke="#1e1e1e" stroke-width="1" />
<text x="49.3" y="330.75" font-size="8.25" text-anchor="end" font-weight="normal" fill="#1e1e1e" stroke="#1e1e1e" stroke-width="0.3" >35</text>
<line x1="52.199999999999996" y1="340.7" x2="55.4" y2="340.7" stroke="#1e1e1e" stroke-width="1" />
<text x="49.3" y="343.6" font-size="8.25" text-anchor="end" font-weight="normal" fill="#1e1e1e" stroke="#1e1e1e" stroke-width="0.3" >30</text>
<line x1="52.199999999999996" y1="353.55" x2="55.4" y2="353.55" stroke="#1e1e1e" stroke-width="1" />
<text x="49.3" y="356.45" font-size="8.25" text-anchor="end" font-weight="normal" fill="#1e1e1e" stroke="#1e1e1e" stroke-width="0.3" >25</text>
<line x1="52.199999999999996" y1="366.40000000000003" x2="55.4" y2="366.40000000000003" stroke="#1e1e1e" stroke-width="1" />
<text x="49.3" y="369.3" font-size="8.25" text-anchor="end" font-weight="normal" fill="#1e1e1e" stroke="#1e1e1e" stroke-width="0.3" >20</text>
<line x1="52.199999999999996" y1="379.25" x2="55.4" y2="379.25" stroke="#1e1e1e" stroke-width="1" />
<text x="49.3" y="382.15" font-size="8.25" text-anchor="end" font-weight="normal" fill="#1e1e1e" stroke="#1e1e1e" stroke-width="0.3" >15</text>
<line x1="52.199999999999996" y1="392.1" x2="55.4" y2="392.1" stroke="#1e1e1e" stroke-width="1" />
<text x="49.3" y="395.0" font-size="8.25" text-anchor="end" font-weight="normal" fill="#1e1e1e" stroke="#1e1e1e" stroke-width="0.3" >10</text>
<line x1="52.199999999999996" y1="404.95" x2="55.4" y2="404.95" stroke="#1e1e1e" stroke-width="1" />
<text x="49.3" y="407.85" font-size="8.25" text-anchor="end" font-weight="normal" fill="#1e1e1e" stroke="#1e1e1e" stroke-width="0.3" >5</text>
<line x1="52.199999999999996" y1="417.8" x2="55.4" y2="417.8" stroke="#1e1e1e" stroke-width="1" />
<text x="49.3" y="420.7" font-size="8.25" text-anchor="end" font-weight="normal" fill="#1e1e1e" stroke="#1e1e1e" stroke-width="0.3" >0</text>
<rect x="63.699999999999996" y="336" width="6.4000000000000075" height="81.80000000000001" fill="#861029" stroke="#650a1c" stroke-width="0.6"/>
<line x1="66.9" y1="336" x2="66.9" y2="333.5" stroke="#1a1a1a" stroke-width="1.3" />
<line x1="64.7" y1="333.5" x2="69.10000000000001" y2="333.5" stroke="#1a1a1a" stroke-width="1.4" />
<rect x="72.5" y="343.2" width="6.4" height="74.60000000000002" fill="url(#hatch)"/>
<line x1="75.7" y1="343.2" x2="75.7" y2="339" stroke="#1a1a1a" stroke-width="1.3" />
<line x1="73.5" y1="339" x2="77.9" y2="339" stroke="#1a1a1a" stroke-width="1.4" />
<rect x="95.3" y="355.5" width="6.4" height="62.30000000000001" fill="#861029" stroke="#650a1c" stroke-width="0.6"/>
<line x1="98.5" y1="355.5" x2="98.5" y2="350" stroke="#1a1a1a" stroke-width="1.3" />
<line x1="96.3" y1="350" x2="100.7" y2="350" stroke="#1a1a1a" stroke-width="1.4" />
<rect x="103.7" y="355" width="6.4" height="62.80000000000001" fill="url(#hatch)"/>
<line x1="106.9" y1="355" x2="106.9" y2="349.5" stroke="#1a1a1a" stroke-width="1.3" />
<line x1="104.7" y1="349.5" x2="109.10000000000001" y2="349.5" stroke="#1a1a1a" stroke-width="1.4" />
<rect x="126.6" y="331.25" width="6.400000000000015" height="86.55000000000001" fill="#861029" stroke="#650a1c" stroke-width="0.6"/>
<line x1="129.8" y1="331.25" x2="129.8" y2="328" stroke="#1a1a1a" stroke-width="1.3" />
<line x1="127.60000000000001" y1="328" x2="132.0" y2="328" stroke="#1a1a1a" stroke-width="1.4" />
<rect x="135.9" y="326.25" width="6.4" height="91.55000000000001" fill="url(#hatch)"/>
<line x1="139.1" y1="326.25" x2="139.1" y2="322.5" stroke="#1a1a1a" stroke-width="1.3" />
<line x1="136.9" y1="322.5" x2="141.29999999999998" y2="322.5" stroke="#1a1a1a" stroke-width="1.4" />
<text x="71.5" y="428.8" font-size="8.2" text-anchor="middle" font-weight="normal" fill="#1e1e1e" stroke="#1e1e1e" stroke-width="0.3" >d0</text>
<text x="102" y="428.8" font-size="8.2" text-anchor="middle" font-weight="normal" fill="#1e1e1e" stroke="#1e1e1e" stroke-width="0.3" >d4</text>
<text x="134.5" y="428.8" font-size="8.2" text-anchor="middle" font-weight="normal" fill="#1e1e1e" stroke="#1e1e1e" stroke-width="0.3" >d6</text>
<line x1="174.4" y1="311.25" x2="174.4" y2="418.40000000000003" stroke="#1e1e1e" stroke-width="1.3" />
<line x1="171.20000000000002" y1="417.8" x2="256.25" y2="417.8" stroke="#1e1e1e" stroke-width="1.45" />
<line x1="171.20000000000002" y1="313.75" x2="174.4" y2="313.75" stroke="#1e1e1e" stroke-width="1" />
<text x="168.3" y="316.65" font-size="8.25" text-anchor="end" font-weight="normal" fill="#1e1e1e" stroke="#1e1e1e" stroke-width="0.3" >25</text>
<line x1="171.20000000000002" y1="334.56" x2="174.4" y2="334.56" stroke="#1e1e1e" stroke-width="1" />
<text x="168.3" y="337.46" font-size="8.25" text-anchor="end" font-weight="normal" fill="#1e1e1e" stroke="#1e1e1e" stroke-width="0.3" >20</text>
<line x1="171.20000000000002" y1="355.37" x2="174.4" y2="355.37" stroke="#1e1e1e" stroke-width="1" />
<text x="168.3" y="358.27" font-size="8.25" text-anchor="end" font-weight="normal" fill="#1e1e1e" stroke="#1e1e1e" stroke-width="0.3" >15</text>
<line x1="171.20000000000002" y1="376.18" x2="174.4" y2="376.18" stroke="#1e1e1e" stroke-width="1" />
<text x="168.3" y="379.08" font-size="8.25" text-anchor="end" font-weight="normal" fill="#1e1e1e" stroke="#1e1e1e" stroke-width="0.3" >10</text>
<line x1="171.20000000000002" y1="396.99" x2="174.4" y2="396.99" stroke="#1e1e1e" stroke-width="1" />
<text x="168.3" y="399.89" font-size="8.25" text-anchor="end" font-weight="normal" fill="#1e1e1e" stroke="#1e1e1e" stroke-width="0.3" >5</text>
<line x1="171.20000000000002" y1="417.8" x2="174.4" y2="417.8" stroke="#1e1e1e" stroke-width="1" />
<text x="168.3" y="420.7" font-size="8.25" text-anchor="end" font-weight="normal" fill="#1e1e1e" stroke="#1e1e1e" stroke-width="0.3" >0</text>
<rect x="181.10000000000002" y="378.25" width="6.4" height="39.55000000000001" fill="#861029" stroke="#650a1c" stroke-width="0.6"/>
<line x1="184.3" y1="378.25" x2="184.3" y2="377.6" stroke="#1a1a1a" stroke-width="1.3" />
<line x1="182.10000000000002" y1="377.6" x2="186.5" y2="377.6" stroke="#1a1a1a" stroke-width="1.4" />
<rect x="189.60000000000002" y="381.25" width="6.4" height="36.55000000000001" fill="url(#hatch)"/>
<line x1="192.8" y1="381.25" x2="192.8" y2="375" stroke="#1a1a1a" stroke-width="1.3" />
<line x1="190.60000000000002" y1="375" x2="195.0" y2="375" stroke="#1a1a1a" stroke-width="1.4" />
<rect x="209.70000000000002" y="385" width="6.4" height="32.80000000000001" fill="#861029" stroke="#650a1c" stroke-width="0.6"/>
<line x1="212.9" y1="385" x2="212.9" y2="379.5" stroke="#1a1a1a" stroke-width="1.3" />
<line x1="210.70000000000002" y1="379.5" x2="215.1" y2="379.5" stroke="#1a1a1a" stroke-width="1.4" />
<rect x="217.70000000000002" y="375" width="6.4" height="42.80000000000001" fill="url(#hatch)"/>
<line x1="220.9" y1="375" x2="220.9" y2="370.5" stroke="#1a1a1a" stroke-width="1.3" />
<line x1="218.70000000000002" y1="370.5" x2="223.1" y2="370.5" stroke="#1a1a1a" stroke-width="1.4" />
<rect x="237.8" y="330.75" width="6.4" height="87.05000000000001" fill="#861029" stroke="#650a1c" stroke-width="0.6"/>
<line x1="241.0" y1="330.75" x2="241.0" y2="327.5" stroke="#1a1a1a" stroke-width="1.3" />
<line x1="238.8" y1="327.5" x2="243.2" y2="327.5" stroke="#1a1a1a" stroke-width="1.4" />
<rect x="246.5" y="323.75" width="6.4" height="94.05000000000001" fill="url(#hatch)"/>
<line x1="249.7" y1="323.75" x2="249.7" y2="318.75" stroke="#1a1a1a" stroke-width="1.3" />
<line x1="247.5" y1="318.75" x2="251.89999999999998" y2="318.75" stroke="#1a1a1a" stroke-width="1.4" />
<text x="188.5" y="428.8" font-size="8.2" text-anchor="middle" font-weight="normal" fill="#1e1e1e" stroke="#1e1e1e" stroke-width="0.3" >d0</text>
<text x="216.8" y="428.8" font-size="8.2" text-anchor="middle" font-weight="normal" fill="#1e1e1e" stroke="#1e1e1e" stroke-width="0.3" >d4</text>
<text x="245.5" y="428.8" font-size="8.2" text-anchor="middle" font-weight="normal" fill="#1e1e1e" stroke="#1e1e1e" stroke-width="0.3" >d6</text>
<line x1="292.4" y1="309.5" x2="292.4" y2="418.40000000000003" stroke="#1e1e1e" stroke-width="1.3" />
<line x1="289.2" y1="417.8" x2="383.75" y2="417.8" stroke="#1e1e1e" stroke-width="1.45" />
<line x1="289.2" y1="312.0" x2="292.4" y2="312.0" stroke="#1e1e1e" stroke-width="1" />
<text x="286.59999999999997" y="314.9" font-size="8.25" text-anchor="end" font-weight="normal" fill="#1e1e1e" stroke="#1e1e1e" stroke-width="0.3" >800</text>
<line x1="289.2" y1="325.225" x2="292.4" y2="325.225" stroke="#1e1e1e" stroke-width="1" />
<text x="286.59999999999997" y="328.12" font-size="8.25" text-anchor="end" font-weight="normal" fill="#1e1e1e" stroke="#1e1e1e" stroke-width="0.3" >700</text>
<line x1="289.2" y1="338.45" x2="292.4" y2="338.45" stroke="#1e1e1e" stroke-width="1" />
<text x="286.59999999999997" y="341.35" font-size="8.25" text-anchor="end" font-weight="normal" fill="#1e1e1e" stroke="#1e1e1e" stroke-width="0.3" >600</text>
<line x1="289.2" y1="351.675" x2="292.4" y2="351.675" stroke="#1e1e1e" stroke-width="1" />
<text x="286.59999999999997" y="354.57" font-size="8.25" text-anchor="end" font-weight="normal" fill="#1e1e1e" stroke="#1e1e1e" stroke-width="0.3" >500</text>
<line x1="289.2" y1="364.9" x2="292.4" y2="364.9" stroke="#1e1e1e" stroke-width="1" />
<text x="286.59999999999997" y="367.8" font-size="8.25" text-anchor="end" font-weight="normal" fill="#1e1e1e" stroke="#1e1e1e" stroke-width="0.3" >400</text>
<line x1="289.2" y1="378.125" x2="292.4" y2="378.125" stroke="#1e1e1e" stroke-width="1" />
<text x="286.59999999999997" y="381.02" font-size="8.25" text-anchor="end" font-weight="normal" fill="#1e1e1e" stroke="#1e1e1e" stroke-width="0.3" >300</text>
<line x1="289.2" y1="391.35" x2="292.4" y2="391.35" stroke="#1e1e1e" stroke-width="1" />
<text x="286.59999999999997" y="394.25" font-size="8.25" text-anchor="end" font-weight="normal" fill="#1e1e1e" stroke="#1e1e1e" stroke-width="0.3" >200</text>
<line x1="289.2" y1="404.575" x2="292.4" y2="404.575" stroke="#1e1e1e" stroke-width="1" />
<text x="286.59999999999997" y="407.47" font-size="8.25" text-anchor="end" font-weight="normal" fill="#1e1e1e" stroke="#1e1e1e" stroke-width="0.3" >100</text>
<line x1="289.2" y1="417.8" x2="292.4" y2="417.8" stroke="#1e1e1e" stroke-width="1" />
<text x="286.59999999999997" y="420.7" font-size="8.25" text-anchor="end" font-weight="normal" fill="#1e1e1e" stroke="#1e1e1e" stroke-width="0.3" >0</text>
<rect x="300.3" y="392.5" width="6.4" height="25.30000000000001" fill="#861029" stroke="#650a1c" stroke-width="0.6"/>
<line x1="303.5" y1="392.5" x2="303.5" y2="390.75" stroke="#1a1a1a" stroke-width="1.3" />
<line x1="301.3" y1="390.75" x2="305.7" y2="390.75" stroke="#1a1a1a" stroke-width="1.4" />
<rect x="309.1" y="393.25" width="6.4" height="24.55000000000001" fill="url(#hatch)"/>
<line x1="312.3" y1="393.25" x2="312.3" y2="388.25" stroke="#1a1a1a" stroke-width="1.3" />
<line x1="310.1" y1="388.25" x2="314.5" y2="388.25" stroke="#1a1a1a" stroke-width="1.4" />
<rect x="331.1" y="390.5" width="6.4" height="27.30000000000001" fill="#861029" stroke="#650a1c" stroke-width="0.6"/>
<line x1="334.3" y1="390.5" x2="334.3" y2="387" stroke="#1a1a1a" stroke-width="1.3" />
<line x1="332.1" y1="387" x2="336.5" y2="387" stroke="#1a1a1a" stroke-width="1.4" />
<rect x="339.5" y="385.75" width="6.4" height="32.05000000000001" fill="url(#hatch)"/>
<line x1="342.7" y1="385.75" x2="342.7" y2="381.25" stroke="#1a1a1a" stroke-width="1.3" />
<line x1="340.5" y1="381.25" x2="344.9" y2="381.25" stroke="#1a1a1a" stroke-width="1.4" />
<rect x="361.1" y="336.5" width="6.4" height="81.30000000000001" fill="#861029" stroke="#650a1c" stroke-width="0.6"/>
<line x1="364.3" y1="336.5" x2="364.3" y2="323" stroke="#1a1a1a" stroke-width="1.3" />
<line x1="362.1" y1="323" x2="366.5" y2="323" stroke="#1a1a1a" stroke-width="1.4" />
<rect x="370.3" y="345" width="6.4" height="72.80000000000001" fill="url(#hatch)"/>
<line x1="373.5" y1="345" x2="373.5" y2="337.5" stroke="#1a1a1a" stroke-width="1.3" />
<line x1="371.3" y1="337.5" x2="375.7" y2="337.5" stroke="#1a1a1a" stroke-width="1.4" />
<text x="308" y="428.8" font-size="8.2" text-anchor="middle" font-weight="normal" fill="#1e1e1e" stroke="#1e1e1e" stroke-width="0.3" >d0</text>
<text x="338.5" y="428.8" font-size="8.2" text-anchor="middle" font-weight="normal" fill="#1e1e1e" stroke="#1e1e1e" stroke-width="0.3" >d4</text>
<text x="368.5" y="428.8" font-size="8.2" text-anchor="middle" font-weight="normal" fill="#1e1e1e" stroke="#1e1e1e" stroke-width="0.3" >d6</text>
<line x1="417.4" y1="307.0" x2="417.4" y2="418.40000000000003" stroke="#1e1e1e" stroke-width="1.3" />
<line x1="414.2" y1="417.8" x2="513" y2="417.8" stroke="#1e1e1e" stroke-width="1.45" />
<line x1="414.2" y1="309.5" x2="417.4" y2="309.5" stroke="#1e1e1e" stroke-width="1" />
<text x="411.5" y="312.4" font-size="8.25" text-anchor="end" font-weight="normal" fill="#1e1e1e" stroke="#1e1e1e" stroke-width="0.3" >800</text>
<line x1="414.2" y1="323.0375" x2="417.4" y2="323.0375" stroke="#1e1e1e" stroke-width="1" />
<text x="411.5" y="325.94" font-size="8.25" text-anchor="end" font-weight="normal" fill="#1e1e1e" stroke="#1e1e1e" stroke-width="0.3" >700</text>
<line x1="414.2" y1="336.575" x2="417.4" y2="336.575" stroke="#1e1e1e" stroke-width="1" />
<text x="411.5" y="339.47" font-size="8.25" text-anchor="end" font-weight="normal" fill="#1e1e1e" stroke="#1e1e1e" stroke-width="0.3" >600</text>
<line x1="414.2" y1="350.1125" x2="417.4" y2="350.1125" stroke="#1e1e1e" stroke-width="1" />
<text x="411.5" y="353.01" font-size="8.25" text-anchor="end" font-weight="normal" fill="#1e1e1e" stroke="#1e1e1e" stroke-width="0.3" >500</text>
<line x1="414.2" y1="363.65" x2="417.4" y2="363.65" stroke="#1e1e1e" stroke-width="1" />
<text x="411.5" y="366.55" font-size="8.25" text-anchor="end" font-weight="normal" fill="#1e1e1e" stroke="#1e1e1e" stroke-width="0.3" >400</text>
<line x1="414.2" y1="377.1875" x2="417.4" y2="377.1875" stroke="#1e1e1e" stroke-width="1" />
<text x="411.5" y="380.09" font-size="8.25" text-anchor="end" font-weight="normal" fill="#1e1e1e" stroke="#1e1e1e" stroke-width="0.3" >300</text>
<line x1="414.2" y1="390.725" x2="417.4" y2="390.725" stroke="#1e1e1e" stroke-width="1" />
<text x="411.5" y="393.62" font-size="8.25" text-anchor="end" font-weight="normal" fill="#1e1e1e" stroke="#1e1e1e" stroke-width="0.3" >200</text>
<line x1="414.2" y1="404.2625" x2="417.4" y2="404.2625" stroke="#1e1e1e" stroke-width="1" />
<text x="411.5" y="407.16" font-size="8.25" text-anchor="end" font-weight="normal" fill="#1e1e1e" stroke="#1e1e1e" stroke-width="0.3" >100</text>
<line x1="414.2" y1="417.8" x2="417.4" y2="417.8" stroke="#1e1e1e" stroke-width="1" />
<text x="411.5" y="420.7" font-size="8.25" text-anchor="end" font-weight="normal" fill="#1e1e1e" stroke="#1e1e1e" stroke-width="0.3" >0</text>
<rect x="425.8" y="417" width="7" height="1.6" fill="#222"/><rect x="434.6" y="416" width="8.5" height="2.4" fill="url(#hatch)"/><rect x="434.6" y="415.8" width="8.5" height="0.8" fill="#333"/>
<rect x="459.1" y="405" width="6.700000000000012" height="12.800000000000011" fill="#861029" stroke="#650a1c" stroke-width="0.6"/>
<line x1="462.45000000000005" y1="405" x2="462.45000000000005" y2="403" stroke="#1a1a1a" stroke-width="1.3" />
<line x1="460.25000000000006" y1="403" x2="464.65000000000003" y2="403" stroke="#1a1a1a" stroke-width="1.4" />
<rect x="468.3" y="405.75" width="6.700000000000012" height="12.050000000000011" fill="url(#hatch)"/>
<line x1="471.65" y1="405.75" x2="471.65" y2="403.25" stroke="#1a1a1a" stroke-width="1.3" />
<line x1="469.45" y1="403.25" x2="473.84999999999997" y2="403.25" stroke="#1a1a1a" stroke-width="1.4" />
<rect x="491.5" y="351.75" width="6.700000000000012" height="66.05000000000001" fill="#861029" stroke="#650a1c" stroke-width="0.6"/>
<line x1="494.85" y1="351.75" x2="494.85" y2="337.5" stroke="#1a1a1a" stroke-width="1.3" />
<line x1="492.65000000000003" y1="337.5" x2="497.05" y2="337.5" stroke="#1a1a1a" stroke-width="1.4" />
<rect x="500.3" y="360.5" width="6.700000000000012" height="57.30000000000001" fill="url(#hatch)"/>
<line x1="503.65" y1="360.5" x2="503.65" y2="353.25" stroke="#1a1a1a" stroke-width="1.3" />
<line x1="501.45" y1="353.25" x2="505.84999999999997" y2="353.25" stroke="#1a1a1a" stroke-width="1.4" />
<text x="436" y="428.8" font-size="8.2" text-anchor="middle" font-weight="normal" fill="#1e1e1e" stroke="#1e1e1e" stroke-width="0.3" >d0</text>
<text x="466.5" y="428.8" font-size="8.2" text-anchor="middle" font-weight="normal" fill="#1e1e1e" stroke="#1e1e1e" stroke-width="0.3" >d4</text>
<text x="499.5" y="428.8" font-size="8.2" text-anchor="middle" font-weight="normal" fill="#1e1e1e" stroke="#1e1e1e" stroke-width="0.3" >d6</text>
<text x="6.4" y="452.3" font-size="11.6" text-anchor="start" font-weight="bold" fill="#1e1e1e" stroke="#1e1e1e" stroke-width="0.3" >B</text>
<text x="51.3" y="453" font-size="9.75" text-anchor="start" font-weight="bold" fill="#1e1e1e" stroke="#1e1e1e" stroke-width="0.3" >ERYTHROBLAST MATURATION</text>
<text x="20.3" y="473.9" font-size="9.7" text-anchor="start" font-weight="bold" fill="#1e1e1e" stroke="#1e1e1e" stroke-width="0.3" >Femur</text>
<text x="17.8" y="608.2" font-size="9.7" text-anchor="start" font-weight="bold" fill="#1e1e1e" stroke="#1e1e1e" stroke-width="0.3" >Spleen</text>
<text x="102" y="474.6" font-size="9.6" text-anchor="start" font-weight="bold" fill="#1e1e1e" stroke="#1e1e1e" stroke-width="0.3" >Spi-C<tspan dy="-3.4" font-size="6.8" font-weight="normal" stroke-width="0.2">&#8211;/&#8211;</tspan></text>
<line x1="75.5" y1="480" x2="165.5" y2="480" stroke="#1e1e1e" stroke-width="1.5" />
<text x="244.5" y="475" font-size="9.5" text-anchor="start" font-weight="bold" fill="#1e1e1e" stroke="#1e1e1e" stroke-width="0.3" >VCAM-1<tspan dy="-3.6" font-size="6.6" font-weight="normal" stroke-width="0.15">&#916;/&#916;</tspan></text>
<line x1="223.8" y1="480" x2="313.8" y2="480" stroke="#1e1e1e" stroke-width="1.5" />
<text x="402.5" y="475.4" font-size="9.5" text-anchor="start" font-weight="bold" fill="#1e1e1e" stroke="#1e1e1e" stroke-width="0.3" >VCAM-1 Tx</text>
<line x1="383" y1="480" x2="473.2" y2="480" stroke="#1e1e1e" stroke-width="1.5" />
<text x="35" y="529.5" font-size="8.5" text-anchor="middle" fill="#1e1e1e" stroke="#1e1e1e" stroke-width="0.38" transform="rotate(-90 35 529.5)">Cell number x 10E6</text>
<line x1="50" y1="486.25" x2="50" y2="573.1" stroke="#1e1e1e" stroke-width="1.3" />
<line x1="46.8" y1="572.5" x2="171.5" y2="572.5" stroke="#1e1e1e" stroke-width="1.45" />
<line x1="46.8" y1="488.75" x2="50" y2="488.75" stroke="#1e1e1e" stroke-width="1" />
<text x="43.7" y="491.65" font-size="8.25" text-anchor="end" font-weight="normal" fill="#1e1e1e" stroke="#1e1e1e" stroke-width="0.3" >6</text>
<line x1="46.8" y1="502.7083333333333" x2="50" y2="502.7083333333333" stroke="#1e1e1e" stroke-width="1" />
<text x="43.7" y="505.61" font-size="8.25" text-anchor="end" font-weight="normal" fill="#1e1e1e" stroke="#1e1e1e" stroke-width="0.3" >5</text>
<line x1="46.8" y1="516.6666666666666" x2="50" y2="516.6666666666666" stroke="#1e1e1e" stroke-width="1" />
<text x="43.7" y="519.57" font-size="8.25" text-anchor="end" font-weight="normal" fill="#1e1e1e" stroke="#1e1e1e" stroke-width="0.3" >4</text>
<line x1="46.8" y1="530.625" x2="50" y2="530.625" stroke="#1e1e1e" stroke-width="1" />
<text x="43.7" y="533.52" font-size="8.25" text-anchor="end" font-weight="normal" fill="#1e1e1e" stroke="#1e1e1e" stroke-width="0.3" >3</text>
<line x1="46.8" y1="544.5833333333334" x2="50" y2="544.5833333333334" stroke="#1e1e1e" stroke-width="1" />
<text x="43.7" y="547.48" font-size="8.25" text-anchor="end" font-weight="normal" fill="#1e1e1e" stroke="#1e1e1e" stroke-width="0.3" >2</text>
<line x1="46.8" y1="558.5416666666666" x2="50" y2="558.5416666666666" stroke="#1e1e1e" stroke-width="1" />
<text x="43.7" y="561.44" font-size="8.25" text-anchor="end" font-weight="normal" fill="#1e1e1e" stroke="#1e1e1e" stroke-width="0.3" >1</text>
<line x1="46.8" y1="572.5" x2="50" y2="572.5" stroke="#1e1e1e" stroke-width="1" />
<text x="43.7" y="575.4" font-size="8.25" text-anchor="end" font-weight="normal" fill="#1e1e1e" stroke="#1e1e1e" stroke-width="0.3" >0</text>
<polyline points="65.6,565.8 97,550.2 128,506.4 159,501.4" fill="none" stroke="#343f5e" stroke-width="1.9" stroke-dasharray="3.5,2.2"/>
<polyline points="65.6,566.2 97,551.5 128,510.9 159,509.2" fill="none" stroke="#7a2c42" stroke-width="1.9" stroke-dasharray="3.5,2.2"/>
<polyline points="65.6,565.8 97,557.7 128,537.1 159,509.5" fill="none" stroke="#3a5684" stroke-width="1.4" />
<polyline points="65.6,566.8 97,557.7 128,541.8 159,524.3" fill="none" stroke="#b0143e" stroke-width="1.4" />
<line x1="128" y1="502.8" x2="128" y2="520.7" stroke="#111" stroke-width="1.3" />
<line x1="125.9" y1="502.8" x2="130.1" y2="502.8" stroke="#111" stroke-width="1.4" />
<line x1="125.9" y1="520.7" x2="130.1" y2="520.7" stroke="#111" stroke-width="1.4" />
<line x1="159" y1="499.4" x2="159" y2="528.4" stroke="#111" stroke-width="1.3" />
<line x1="156.9" y1="499.4" x2="161.1" y2="499.4" stroke="#111" stroke-width="1.4" />
<line x1="156.9" y1="528.4" x2="161.1" y2="528.4" stroke="#111" stroke-width="1.4" />
<line x1="97" y1="549" x2="97" y2="553.6" stroke="#111" stroke-width="1.3" />
<line x1="94.9" y1="549" x2="99.1" y2="549" stroke="#111" stroke-width="1.4" />
<line x1="94.9" y1="553.6" x2="99.1" y2="553.6" stroke="#111" stroke-width="1.4" />
<line x1="128" y1="535.6" x2="128" y2="538.6" stroke="#111" stroke-width="1.3" />
<line x1="125.9" y1="535.6" x2="130.1" y2="535.6" stroke="#111" stroke-width="1.4" />
<line x1="125.9" y1="538.6" x2="130.1" y2="538.6" stroke="#111" stroke-width="1.4" />
<line x1="97" y1="556.5" x2="97" y2="559" stroke="#111" stroke-width="1.3" />
<line x1="94.9" y1="556.5" x2="99.1" y2="556.5" stroke="#111" stroke-width="1.4" />
<line x1="94.9" y1="559" x2="99.1" y2="559" stroke="#111" stroke-width="1.4" />
<text x="65.6" y="583.2" font-size="8.2" text-anchor="middle" font-weight="normal" fill="#1e1e1e" stroke="#1e1e1e" stroke-width="0.3" >Pro</text>
<text x="97" y="583.2" font-size="8.2" text-anchor="middle" font-weight="normal" fill="#1e1e1e" stroke="#1e1e1e" stroke-width="0.3" >Baso</text>
<text x="128" y="583.2" font-size="8.2" text-anchor="middle" font-weight="normal" fill="#1e1e1e" stroke="#1e1e1e" stroke-width="0.3" >Poly</text>
<text x="159" y="583.2" font-size="8.2" text-anchor="middle" font-weight="normal" fill="#1e1e1e" stroke="#1e1e1e" stroke-width="0.3" >Ortho</text>
<line x1="156.9" y1="502.8" x2="161.1" y2="502.8" stroke="#111" stroke-width="1.4" />
<circle cx="159" cy="517.6" r="1.3" fill="#111"/>
<circle cx="65.6" cy="566.5" r="1.6" fill="#111"/>
<line x1="63.49999999999999" y1="564.6" x2="67.69999999999999" y2="564.6" stroke="#111" stroke-width="1.4" />
<line x1="63.49999999999999" y1="568" x2="67.69999999999999" y2="568" stroke="#111" stroke-width="1.4" />
<line x1="125.9" y1="543.2" x2="130.1" y2="543.2" stroke="#111" stroke-width="1.4" />
<line x1="206.25" y1="486.25" x2="206.25" y2="573.1" stroke="#1e1e1e" stroke-width="1.3" />
<line x1="203.05" y1="572.5" x2="330" y2="572.5" stroke="#1e1e1e" stroke-width="1.45" />
<line x1="203.05" y1="488.75" x2="206.25" y2="488.75" stroke="#1e1e1e" stroke-width="1" />
<text x="199.95" y="491.65" font-size="8.25" text-anchor="end" font-weight="normal" fill="#1e1e1e" stroke="#1e1e1e" stroke-width="0.3" >12</text>
<line x1="203.05" y1="502.7083333333333" x2="206.25" y2="502.7083333333333" stroke="#1e1e1e" stroke-width="1" />
<text x="199.95" y="505.61" font-size="8.25" text-anchor="end" font-weight="normal" fill="#1e1e1e" stroke="#1e1e1e" stroke-width="0.3" >10</text>
<line x1="203.05" y1="516.6666666666666" x2="206.25" y2="516.6666666666666" stroke="#1e1e1e" stroke-width="1" />
<text x="199.95" y="519.57" font-size="8.25" text-anchor="end" font-weight="normal" fill="#1e1e1e" stroke="#1e1e1e" stroke-width="0.3" >8</text>
<line x1="203.05" y1="530.625" x2="206.25" y2="530.625" stroke="#1e1e1e" stroke-width="1" />
<text x="199.95" y="533.52" font-size="8.25" text-anchor="end" font-weight="normal" fill="#1e1e1e" stroke="#1e1e1e" stroke-width="0.3" >6</text>
<line x1="203.05" y1="544.5833333333334" x2="206.25" y2="544.5833333333334" stroke="#1e1e1e" stroke-width="1" />
<text x="199.95" y="547.48" font-size="8.25" text-anchor="end" font-weight="normal" fill="#1e1e1e" stroke="#1e1e1e" stroke-width="0.3" >4</text>
<line x1="203.05" y1="558.5416666666666" x2="206.25" y2="558.5416666666666" stroke="#1e1e1e" stroke-width="1" />
<text x="199.95" y="561.44" font-size="8.25" text-anchor="end" font-weight="normal" fill="#1e1e1e" stroke="#1e1e1e" stroke-width="0.3" >2</text>
<line x1="203.05" y1="572.5" x2="206.25" y2="572.5" stroke="#1e1e1e" stroke-width="1" />
<text x="199.95" y="575.4" font-size="8.25" text-anchor="end" font-weight="normal" fill="#1e1e1e" stroke="#1e1e1e" stroke-width="0.3" >0</text>
<polyline points="221.5,570.0 253,560.5 284.2,528.8 315,505.5" fill="none" stroke="#ebc3a6" stroke-width="1.6" stroke-dasharray="3.5,2.2"/>
<polyline points="221.5,570.0 253,560.5 284.2,532.3 315,501.5" fill="none" stroke="#5e2232" stroke-width="1.9" stroke-dasharray="3.5,2.2"/>
<polyline points="221.5,570.5 253,560.5 284.2,538.6 315,525.2" fill="none" stroke="#8a1535" stroke-width="1.5" />
<polyline points="221.5,569.5 253,561.0 284.2,546.0 315,539.8" fill="none" stroke="#eab58c" stroke-width="1.5" />
<line x1="284.2" y1="526.2" x2="284.2" y2="533.5" stroke="#111" stroke-width="1.3" />
<line x1="282.09999999999997" y1="526.2" x2="286.3" y2="526.2" stroke="#111" stroke-width="1.4" />
<line x1="282.09999999999997" y1="533.5" x2="286.3" y2="533.5" stroke="#111" stroke-width="1.4" />
<line x1="284.2" y1="534.5" x2="284.2" y2="543.8" stroke="#111" stroke-width="1.3" />
<line x1="282.09999999999997" y1="534.5" x2="286.3" y2="534.5" stroke="#111" stroke-width="1.4" />
<line x1="282.09999999999997" y1="543.8" x2="286.3" y2="543.8" stroke="#111" stroke-width="1.4" />
<line x1="315" y1="494" x2="315" y2="510.8" stroke="#111" stroke-width="1.3" />
<line x1="312.9" y1="494" x2="317.1" y2="494" stroke="#111" stroke-width="1.4" />
<line x1="312.9" y1="510.8" x2="317.1" y2="510.8" stroke="#111" stroke-width="1.4" />
<line x1="315" y1="520.2" x2="315" y2="529.8" stroke="#111" stroke-width="1.3" />
<line x1="312.9" y1="520.2" x2="317.1" y2="520.2" stroke="#111" stroke-width="1.4" />
<line x1="312.9" y1="529.8" x2="317.1" y2="529.8" stroke="#111" stroke-width="1.4" />
<line x1="315" y1="534.4" x2="315" y2="543.6" stroke="#111" stroke-width="1.3" />
<line x1="312.9" y1="534.4" x2="317.1" y2="534.4" stroke="#111" stroke-width="1.4" />
<line x1="312.9" y1="543.6" x2="317.1" y2="543.6" stroke="#111" stroke-width="1.4" />
<text x="221.5" y="583.2" font-size="8.2" text-anchor="middle" font-weight="normal" fill="#1e1e1e" stroke="#1e1e1e" stroke-width="0.3" >Pro</text>
<text x="253" y="583.2" font-size="8.2" text-anchor="middle" font-weight="normal" fill="#1e1e1e" stroke="#1e1e1e" stroke-width="0.3" >Baso</text>
<text x="284.2" y="583.2" font-size="8.2" text-anchor="middle" font-weight="normal" fill="#1e1e1e" stroke="#1e1e1e" stroke-width="0.3" >Poly</text>
<text x="315" y="583.2" font-size="8.2" text-anchor="middle" font-weight="normal" fill="#1e1e1e" stroke="#1e1e1e" stroke-width="0.3" >Ortho</text>
<line x1="282.09999999999997" y1="547.3" x2="286.3" y2="547.3" stroke="#111" stroke-width="1.4" />
<line x1="312.9" y1="502" x2="317.1" y2="502" stroke="#111" stroke-width="1.4" />
<circle cx="221.5" cy="569.8" r="1.4" fill="#111"/>
<circle cx="253" cy="560.3" r="1.3" fill="#111"/>
<circle cx="284.2" cy="552.5" r="1.2" fill="#111"/>
<line x1="366" y1="481.25" x2="366" y2="573.1" stroke="#1e1e1e" stroke-width="1.3" />
<line x1="362.8" y1="572.5" x2="492" y2="572.5" stroke="#1e1e1e" stroke-width="1.45" />
<line x1="362.8" y1="483.75" x2="366" y2="483.75" stroke="#1e1e1e" stroke-width="1" />
<text x="358.8" y="486.65" font-size="8.25" text-anchor="end" font-weight="normal" fill="#1e1e1e" stroke="#1e1e1e" stroke-width="0.3" >15</text>
<line x1="362.8" y1="501.5" x2="366" y2="501.5" stroke="#1e1e1e" stroke-width="1" />
<text x="358.8" y="504.4" font-size="8.25" text-anchor="end" font-weight="normal" fill="#1e1e1e" stroke="#1e1e1e" stroke-width="0.3" >12</text>
<line x1="362.8" y1="519.25" x2="366" y2="519.25" stroke="#1e1e1e" stroke-width="1" />
<text x="358.8" y="522.15" font-size="8.25" text-anchor="end" font-weight="normal" fill="#1e1e1e" stroke="#1e1e1e" stroke-width="0.3" >9</text>
<line x1="362.8" y1="537.0" x2="366" y2="537.0" stroke="#1e1e1e" stroke-width="1" />
<text x="358.8" y="539.9" font-size="8.25" text-anchor="end" font-weight="normal" fill="#1e1e1e" stroke="#1e1e1e" stroke-width="0.3" >6</text>
<line x1="362.8" y1="554.75" x2="366" y2="554.75" stroke="#1e1e1e" stroke-width="1" />
<text x="358.8" y="557.65" font-size="8.25" text-anchor="end" font-weight="normal" fill="#1e1e1e" stroke="#1e1e1e" stroke-width="0.3" >3</text>
<line x1="362.8" y1="572.5" x2="366" y2="572.5" stroke="#1e1e1e" stroke-width="1" />
<text x="358.8" y="575.4" font-size="8.25" text-anchor="end" font-weight="normal" fill="#1e1e1e" stroke="#1e1e1e" stroke-width="0.3" >0</text>
<polyline points="381.2,568.8 412.8,560.2 444.2,529.8 475.9,505.0" fill="none" stroke="#ebc3a6" stroke-width="1.6" stroke-dasharray="3.5,2.2"/>
<polyline points="381.2,568.8 412.8,560.2 444.2,529.8 475.9,516.0" fill="none" stroke="#5e2232" stroke-width="1.9" stroke-dasharray="3.5,2.2"/>
<polyline points="381.2,570.2 412.8,568.8 444.2,553.4 475.9,543.3" fill="none" stroke="#eab58c" stroke-width="1.4" />
<polyline points="381.2,570.2 412.8,569.2 444.2,557.5 475.9,552.3" fill="none" stroke="#ab1a40" stroke-width="1.5" />
<line x1="444.2" y1="527.5" x2="444.2" y2="532.1" stroke="#111" stroke-width="1.3" />
<line x1="442.09999999999997" y1="527.5" x2="446.3" y2="527.5" stroke="#111" stroke-width="1.4" />
<line x1="442.09999999999997" y1="532.1" x2="446.3" y2="532.1" stroke="#111" stroke-width="1.4" />
<line x1="444.2" y1="550.6" x2="444.2" y2="560.6" stroke="#111" stroke-width="1.3" />
<line x1="442.09999999999997" y1="550.6" x2="446.3" y2="550.6" stroke="#111" stroke-width="1.4" />
<line x1="442.09999999999997" y1="560.6" x2="446.3" y2="560.6" stroke="#111" stroke-width="1.4" />
<line x1="475.9" y1="499.8" x2="475.9" y2="507.3" stroke="#111" stroke-width="1.3" />
<line x1="473.79999999999995" y1="499.8" x2="478.0" y2="499.8" stroke="#111" stroke-width="1.4" />
<line x1="473.79999999999995" y1="507.3" x2="478.0" y2="507.3" stroke="#111" stroke-width="1.4" />
<line x1="475.9" y1="511.3" x2="475.9" y2="517.7" stroke="#111" stroke-width="1.3" />
<line x1="473.79999999999995" y1="511.3" x2="478.0" y2="511.3" stroke="#111" stroke-width="1.4" />
<line x1="473.79999999999995" y1="517.7" x2="478.0" y2="517.7" stroke="#111" stroke-width="1.4" />
<line x1="475.9" y1="539" x2="475.9" y2="556.3" stroke="#111" stroke-width="1.3" />
<line x1="473.79999999999995" y1="539" x2="478.0" y2="539" stroke="#111" stroke-width="1.4" />
<line x1="473.79999999999995" y1="556.3" x2="478.0" y2="556.3" stroke="#111" stroke-width="1.4" />
<line x1="412.8" y1="558" x2="412.8" y2="562" stroke="#111" stroke-width="1.3" />
<line x1="410.7" y1="558" x2="414.90000000000003" y2="558" stroke="#111" stroke-width="1.4" />
<line x1="410.7" y1="562" x2="414.90000000000003" y2="562" stroke="#111" stroke-width="1.4" />
<text x="381.2" y="583.2" font-size="8.2" text-anchor="middle" font-weight="normal" fill="#1e1e1e" stroke="#1e1e1e" stroke-width="0.3" >Pro</text>
<text x="412.8" y="583.2" font-size="8.2" text-anchor="middle" font-weight="normal" fill="#1e1e1e" stroke="#1e1e1e" stroke-width="0.3" >Baso</text>
<text x="444.2" y="583.2" font-size="8.2" text-anchor="middle" font-weight="normal" fill="#1e1e1e" stroke="#1e1e1e" stroke-width="0.3" >Poly</text>
<text x="475.9" y="583.2" font-size="8.2" text-anchor="middle" font-weight="normal" fill="#1e1e1e" stroke="#1e1e1e" stroke-width="0.3" >Ortho</text>
<line x1="473.79999999999995" y1="548.2" x2="478.0" y2="548.2" stroke="#111" stroke-width="1.4" />
<circle cx="381.2" cy="568.8" r="1.5" fill="#111"/>
<text x="25" y="657.5" font-size="8.5" text-anchor="middle" fill="#1e1e1e" stroke="#1e1e1e" stroke-width="0.38" transform="rotate(-90 25 657.5)">Cell number x 10E6</text>
<line x1="50" y1="615.5" x2="50" y2="700.6" stroke="#1e1e1e" stroke-width="1.3" />
<line x1="46.8" y1="700" x2="171.25" y2="700" stroke="#1e1e1e" stroke-width="1.45" />
<line x1="46.8" y1="618.0" x2="50" y2="618.0" stroke="#1e1e1e" stroke-width="1" />
<text x="44.4" y="620.9" font-size="8.25" text-anchor="end" font-weight="normal" fill="#1e1e1e" stroke="#1e1e1e" stroke-width="0.3" >500</text>
<line x1="46.8" y1="634.4" x2="50" y2="634.4" stroke="#1e1e1e" stroke-width="1" />
<text x="44.4" y="637.3" font-size="8.25" text-anchor="end" font-weight="normal" fill="#1e1e1e" stroke="#1e1e1e" stroke-width="0.3" >400</text>
<line x1="46.8" y1="650.8" x2="50" y2="650.8" stroke="#1e1e1e" stroke-width="1" />
<text x="44.4" y="653.7" font-size="8.25" text-anchor="end" font-weight="normal" fill="#1e1e1e" stroke="#1e1e1e" stroke-width="0.3" >300</text>
<line x1="46.8" y1="667.2" x2="50" y2="667.2" stroke="#1e1e1e" stroke-width="1" />
<text x="44.4" y="670.1" font-size="8.25" text-anchor="end" font-weight="normal" fill="#1e1e1e" stroke="#1e1e1e" stroke-width="0.3" >200</text>
<line x1="46.8" y1="683.6" x2="50" y2="683.6" stroke="#1e1e1e" stroke-width="1" />
<text x="44.4" y="686.5" font-size="8.25" text-anchor="end" font-weight="normal" fill="#1e1e1e" stroke="#1e1e1e" stroke-width="0.3" >100</text>
<line x1="46.8" y1="700.0" x2="50" y2="700.0" stroke="#1e1e1e" stroke-width="1" />
<text x="44.4" y="702.9" font-size="8.25" text-anchor="end" font-weight="normal" fill="#1e1e1e" stroke="#1e1e1e" stroke-width="0.3" >0</text>
<polyline points="65.5,692.0 95,680.0 124.4,631.0 154.1,634.8" fill="none" stroke="#343f5e" stroke-width="1.9" stroke-dasharray="3.5,2.2"/>
<polyline points="65.5,694.5 95,681.3 124.4,640.8 154.1,644.2" fill="none" stroke="#7a2c42" stroke-width="1.9" stroke-dasharray="3.5,2.2"/>
<polyline points="65.5,695.0 95,693.8 124.4,684.6 154.1,683.2" fill="none" stroke="#3a5684" stroke-width="1.4" />
<polyline points="65.5,696.2 95,694.5 124.4,688.3 154.1,688.3" fill="none" stroke="#b0143e" stroke-width="1.4" />
<line x1="124.4" y1="628.1" x2="124.4" y2="646.3" stroke="#111" stroke-width="1.3" />
<line x1="122.30000000000001" y1="628.1" x2="126.5" y2="628.1" stroke="#111" stroke-width="1.4" />
<line x1="122.30000000000001" y1="646.3" x2="126.5" y2="646.3" stroke="#111" stroke-width="1.4" />
<line x1="154.1" y1="633.6" x2="154.1" y2="650.2" stroke="#111" stroke-width="1.3" />
<line x1="152.0" y1="633.6" x2="156.2" y2="633.6" stroke="#111" stroke-width="1.4" />
<line x1="152.0" y1="650.2" x2="156.2" y2="650.2" stroke="#111" stroke-width="1.4" />
<line x1="95" y1="678" x2="95" y2="684" stroke="#111" stroke-width="1.3" />
<line x1="92.9" y1="678" x2="97.1" y2="678" stroke="#111" stroke-width="1.4" />
<line x1="92.9" y1="684" x2="97.1" y2="684" stroke="#111" stroke-width="1.4" />
<line x1="124.4" y1="683.4" x2="124.4" y2="692.1" stroke="#111" stroke-width="1.3" />
<line x1="122.30000000000001" y1="683.4" x2="126.5" y2="683.4" stroke="#111" stroke-width="1.4" />
<line x1="122.30000000000001" y1="692.1" x2="126.5" y2="692.1" stroke="#111" stroke-width="1.4" />
<line x1="154.1" y1="681.7" x2="154.1" y2="692.1" stroke="#111" stroke-width="1.3" />
<line x1="152.0" y1="681.7" x2="156.2" y2="681.7" stroke="#111" stroke-width="1.4" />
<line x1="152.0" y1="692.1" x2="156.2" y2="692.1" stroke="#111" stroke-width="1.4" />
<line x1="65.5" y1="689.5" x2="65.5" y2="697" stroke="#111" stroke-width="1.3" />
<line x1="63.4" y1="689.5" x2="67.6" y2="689.5" stroke="#111" stroke-width="1.4" />
<line x1="63.4" y1="697" x2="67.6" y2="697" stroke="#111" stroke-width="1.4" />
<text x="65.5" y="710.7" font-size="8.2" text-anchor="middle" font-weight="normal" fill="#1e1e1e" stroke="#1e1e1e" stroke-width="0.3" >Pro</text>
<text x="95" y="710.7" font-size="8.2" text-anchor="middle" font-weight="normal" fill="#1e1e1e" stroke="#1e1e1e" stroke-width="0.3" >Baso</text>
<text x="124.4" y="710.7" font-size="8.2" text-anchor="middle" font-weight="normal" fill="#1e1e1e" stroke="#1e1e1e" stroke-width="0.3" >Poly</text>
<text x="154.1" y="710.7" font-size="8.2" text-anchor="middle" font-weight="normal" fill="#1e1e1e" stroke="#1e1e1e" stroke-width="0.3" >Ortho</text>
<line x1="122.30000000000001" y1="633.8" x2="126.5" y2="633.8" stroke="#111" stroke-width="1.4" />
<circle cx="154.1" cy="639" r="1.3" fill="#111"/>
<line x1="206.25" y1="613.25" x2="206.25" y2="700.6" stroke="#1e1e1e" stroke-width="1.3" />
<line x1="203.05" y1="700" x2="330" y2="700" stroke="#1e1e1e" stroke-width="1.45" />
<line x1="203.05" y1="615.75" x2="206.25" y2="615.75" stroke="#1e1e1e" stroke-width="1" />
<text x="200.45" y="618.65" font-size="8.25" text-anchor="end" font-weight="normal" fill="#1e1e1e" stroke="#1e1e1e" stroke-width="0.3" >800</text>
<line x1="203.05" y1="626.28125" x2="206.25" y2="626.28125" stroke="#1e1e1e" stroke-width="1" />
<text x="200.45" y="629.18" font-size="8.25" text-anchor="end" font-weight="normal" fill="#1e1e1e" stroke="#1e1e1e" stroke-width="0.3" >700</text>
<line x1="203.05" y1="636.8125" x2="206.25" y2="636.8125" stroke="#1e1e1e" stroke-width="1" />
<text x="200.45" y="639.71" font-size="8.25" text-anchor="end" font-weight="normal" fill="#1e1e1e" stroke="#1e1e1e" stroke-width="0.3" >600</text>
<line x1="203.05" y1="647.34375" x2="206.25" y2="647.34375" stroke="#1e1e1e" stroke-width="1" />
<text x="200.45" y="650.24" font-size="8.25" text-anchor="end" font-weight="normal" fill="#1e1e1e" stroke="#1e1e1e" stroke-width="0.3" >500</text>
<line x1="203.05" y1="657.875" x2="206.25" y2="657.875" stroke="#1e1e1e" stroke-width="1" />
<text x="200.45" y="660.77" font-size="8.25" text-anchor="end" font-weight="normal" fill="#1e1e1e" stroke="#1e1e1e" stroke-width="0.3" >400</text>
<line x1="203.05" y1="668.40625" x2="206.25" y2="668.40625" stroke="#1e1e1e" stroke-width="1" />
<text x="200.45" y="671.31" font-size="8.25" text-anchor="end" font-weight="normal" fill="#1e1e1e" stroke="#1e1e1e" stroke-width="0.3" >300</text>
<line x1="203.05" y1="678.9375" x2="206.25" y2="678.9375" stroke="#1e1e1e" stroke-width="1" />
<text x="200.45" y="681.84" font-size="8.25" text-anchor="end" font-weight="normal" fill="#1e1e1e" stroke="#1e1e1e" stroke-width="0.3" >200</text>
<line x1="203.05" y1="689.46875" x2="206.25" y2="689.46875" stroke="#1e1e1e" stroke-width="1" />
<text x="200.45" y="692.37" font-size="8.25" text-anchor="end" font-weight="normal" fill="#1e1e1e" stroke="#1e1e1e" stroke-width="0.3" >100</text>
<line x1="203.05" y1="700.0" x2="206.25" y2="700.0" stroke="#1e1e1e" stroke-width="1" />
<text x="200.45" y="702.9" font-size="8.25" text-anchor="end" font-weight="normal" fill="#1e1e1e" stroke="#1e1e1e" stroke-width="0.3" >0</text>
<polyline points="221.75,699.5 252.5,691.5 284.4,662.0 316.1,651.1" fill="none" stroke="#ebc3a6" stroke-width="1.6" stroke-dasharray="3.5,2.2"/>
<polyline points="221.75,699.5 252.5,691.3 284.4,659.8 316.1,637.3" fill="none" stroke="#5e2232" stroke-width="1.9" stroke-dasharray="3.5,2.2"/>
<polyline points="221.75,699.5 252.5,698.0 284.4,695.2 316.1,695.5" fill="none" stroke="#eab58c" stroke-width="1.6" />
<polyline points="221.75,699.5 252.5,695.0 284.4,687.8 316.1,688.0" fill="none" stroke="#8a1535" stroke-width="1.6" />
<line x1="284.4" y1="658.6" x2="284.4" y2="665.6" stroke="#111" stroke-width="1.3" />
<line x1="282.29999999999995" y1="658.6" x2="286.5" y2="658.6" stroke="#111" stroke-width="1.4" />
<line x1="282.29999999999995" y1="665.6" x2="286.5" y2="665.6" stroke="#111" stroke-width="1.4" />
<line x1="316.1" y1="627.5" x2="316.1" y2="656.9" stroke="#111" stroke-width="1.3" />
<line x1="314.0" y1="627.5" x2="318.20000000000005" y2="627.5" stroke="#111" stroke-width="1.4" />
<line x1="314.0" y1="656.9" x2="318.20000000000005" y2="656.9" stroke="#111" stroke-width="1.4" />
<text x="221.75" y="710.7" font-size="8.2" text-anchor="middle" font-weight="normal" fill="#1e1e1e" stroke="#1e1e1e" stroke-width="0.3" >Pro</text>
<text x="252.5" y="710.7" font-size="8.2" text-anchor="middle" font-weight="normal" fill="#1e1e1e" stroke="#1e1e1e" stroke-width="0.3" >Baso</text>
<text x="284.4" y="710.7" font-size="8.2" text-anchor="middle" font-weight="normal" fill="#1e1e1e" stroke="#1e1e1e" stroke-width="0.3" >Poly</text>
<text x="316.1" y="710.7" font-size="8.2" text-anchor="middle" font-weight="normal" fill="#1e1e1e" stroke="#1e1e1e" stroke-width="0.3" >Ortho</text>
<circle cx="316.1" cy="644.2" r="1.3" fill="#111"/>
<circle cx="221.75" cy="699" r="1.2" fill="#111"/>
<line x1="250.4" y1="689.8" x2="254.6" y2="689.8" stroke="#111" stroke-width="1.4" />
<line x1="250.4" y1="692.2" x2="254.6" y2="692.2" stroke="#111" stroke-width="1.4" />
<circle cx="252.5" cy="695.2" r="1.2" fill="#111"/>
<line x1="282.29999999999995" y1="693.6" x2="286.5" y2="693.6" stroke="#111" stroke-width="1.4" />
<line x1="282.29999999999995" y1="696.6" x2="286.5" y2="696.6" stroke="#111" stroke-width="1.4" />
<line x1="314.0" y1="693.8" x2="318.20000000000005" y2="693.8" stroke="#111" stroke-width="1.4" />
<line x1="314.0" y1="696.8" x2="318.20000000000005" y2="696.8" stroke="#111" stroke-width="1.4" />
<line x1="314.0" y1="688" x2="318.20000000000005" y2="688" stroke="#111" stroke-width="1.4" />
<line x1="282.29999999999995" y1="659" x2="286.5" y2="659" stroke="#111" stroke-width="1.4" />
<circle cx="250.5" cy="684.5" r="1.2" fill="#111"/>
<circle cx="281.5" cy="681.4" r="1.2" fill="#111"/>
<circle cx="313.3" cy="681.4" r="1.2" fill="#111"/>
<line x1="366.25" y1="613.75" x2="366.25" y2="700.6" stroke="#1e1e1e" stroke-width="1.3" />
<line x1="363.05" y1="700" x2="492.3" y2="700" stroke="#1e1e1e" stroke-width="1.45" />
<line x1="363.05" y1="616.25" x2="366.25" y2="616.25" stroke="#1e1e1e" stroke-width="1" />
<text x="360.05" y="619.15" font-size="8.25" text-anchor="end" font-weight="normal" fill="#1e1e1e" stroke="#1e1e1e" stroke-width="0.3" >350</text>
<line x1="363.05" y1="628.2142857142857" x2="366.25" y2="628.2142857142857" stroke="#1e1e1e" stroke-width="1" />
<text x="360.05" y="631.11" font-size="8.25" text-anchor="end" font-weight="normal" fill="#1e1e1e" stroke="#1e1e1e" stroke-width="0.3" >300</text>
<line x1="363.05" y1="640.1785714285714" x2="366.25" y2="640.1785714285714" stroke="#1e1e1e" stroke-width="1" />
<text x="360.05" y="643.08" font-size="8.25" text-anchor="end" font-weight="normal" fill="#1e1e1e" stroke="#1e1e1e" stroke-width="0.3" >250</text>
<line x1="363.05" y1="652.1428571428571" x2="366.25" y2="652.1428571428571" stroke="#1e1e1e" stroke-width="1" />
<text x="360.05" y="655.04" font-size="8.25" text-anchor="end" font-weight="normal" fill="#1e1e1e" stroke="#1e1e1e" stroke-width="0.3" >200</text>
<line x1="363.05" y1="664.1071428571429" x2="366.25" y2="664.1071428571429" stroke="#1e1e1e" stroke-width="1" />
<text x="360.05" y="667.01" font-size="8.25" text-anchor="end" font-weight="normal" fill="#1e1e1e" stroke="#1e1e1e" stroke-width="0.3" >150</text>
<line x1="363.05" y1="676.0714285714286" x2="366.25" y2="676.0714285714286" stroke="#1e1e1e" stroke-width="1" />
<text x="360.05" y="678.97" font-size="8.25" text-anchor="end" font-weight="normal" fill="#1e1e1e" stroke="#1e1e1e" stroke-width="0.3" >100</text>
<line x1="363.05" y1="688.0357142857143" x2="366.25" y2="688.0357142857143" stroke="#1e1e1e" stroke-width="1" />
<text x="360.05" y="690.94" font-size="8.25" text-anchor="end" font-weight="normal" fill="#1e1e1e" stroke="#1e1e1e" stroke-width="0.3" >50</text>
<line x1="363.05" y1="700.0" x2="366.25" y2="700.0" stroke="#1e1e1e" stroke-width="1" />
<text x="360.05" y="702.9" font-size="8.25" text-anchor="end" font-weight="normal" fill="#1e1e1e" stroke="#1e1e1e" stroke-width="0.3" >0</text>
<polyline points="381.5,696.5 413,690.9 444.6,662.4 475.6,655.5" fill="none" stroke="#ebc3a6" stroke-width="1.6" stroke-dasharray="3.5,2.2"/>
<polyline points="381.5,696.5 413,690.9 444.6,656.3 475.6,643.4" fill="none" stroke="#5e2232" stroke-width="1.9" stroke-dasharray="3.5,2.2"/>
<polyline points="381.5,697.5 413,697.0 444.6,693.0 475.6,690.5" fill="none" stroke="#eab58c" stroke-width="1.6" />
<polyline points="381.5,697.0 413,697.0 444.6,692.7 475.6,690.0" fill="none" stroke="#ab1a40" stroke-width="1.6" />
<line x1="444.6" y1="648" x2="444.6" y2="667.6" stroke="#111" stroke-width="1.3" />
<line x1="442.5" y1="648" x2="446.70000000000005" y2="648" stroke="#111" stroke-width="1.4" />
<line x1="442.5" y1="667.6" x2="446.70000000000005" y2="667.6" stroke="#111" stroke-width="1.4" />
<line x1="475.6" y1="628.3" x2="475.6" y2="661.5" stroke="#111" stroke-width="1.3" />
<line x1="473.5" y1="628.3" x2="477.70000000000005" y2="628.3" stroke="#111" stroke-width="1.4" />
<line x1="473.5" y1="661.5" x2="477.70000000000005" y2="661.5" stroke="#111" stroke-width="1.4" />
<line x1="413" y1="689.5" x2="413" y2="692.5" stroke="#111" stroke-width="1.3" />
<line x1="410.9" y1="689.5" x2="415.1" y2="689.5" stroke="#111" stroke-width="1.4" />
<line x1="410.9" y1="692.5" x2="415.1" y2="692.5" stroke="#111" stroke-width="1.4" />
<line x1="444.6" y1="690.6" x2="444.6" y2="695.8" stroke="#111" stroke-width="1.3" />
<line x1="442.5" y1="690.6" x2="446.70000000000005" y2="690.6" stroke="#111" stroke-width="1.4" />
<line x1="442.5" y1="695.8" x2="446.70000000000005" y2="695.8" stroke="#111" stroke-width="1.4" />
<line x1="475.6" y1="688" x2="475.6" y2="691.8" stroke="#111" stroke-width="1.3" />
<line x1="473.5" y1="688" x2="477.70000000000005" y2="688" stroke="#111" stroke-width="1.4" />
<line x1="473.5" y1="691.8" x2="477.70000000000005" y2="691.8" stroke="#111" stroke-width="1.4" />
<text x="381.5" y="710.7" font-size="8.2" text-anchor="middle" font-weight="normal" fill="#1e1e1e" stroke="#1e1e1e" stroke-width="0.3" >Pro</text>
<text x="413" y="710.7" font-size="8.2" text-anchor="middle" font-weight="normal" fill="#1e1e1e" stroke="#1e1e1e" stroke-width="0.3" >Baso</text>
<text x="444.6" y="710.7" font-size="8.2" text-anchor="middle" font-weight="normal" fill="#1e1e1e" stroke="#1e1e1e" stroke-width="0.3" >Poly</text>
<text x="475.6" y="710.7" font-size="8.2" text-anchor="middle" font-weight="normal" fill="#1e1e1e" stroke="#1e1e1e" stroke-width="0.3" >Ortho</text>
<line x1="442.5" y1="663" x2="446.70000000000005" y2="663" stroke="#111" stroke-width="1.4" />
<line x1="473.5" y1="647.8" x2="477.70000000000005" y2="647.8" stroke="#111" stroke-width="1.4" />
<line x1="473.5" y1="655.5" x2="477.70000000000005" y2="655.5" stroke="#111" stroke-width="1.4" />
<circle cx="381.5" cy="696.5" r="1.2" fill="#111"/>
</g>
<rect x="0" y="0" width="520" height="1.1" fill="#1a1a1a"/><rect x="0" y="0" width="1.4" height="719" fill="#1a1a1a"/><rect x="518.9" y="0" width="1.1" height="719" fill="#1a1a1a"/><rect x="0" y="717.7" width="520" height="1.3" fill="#1a1a1a"/>
</svg>
</body></html>
